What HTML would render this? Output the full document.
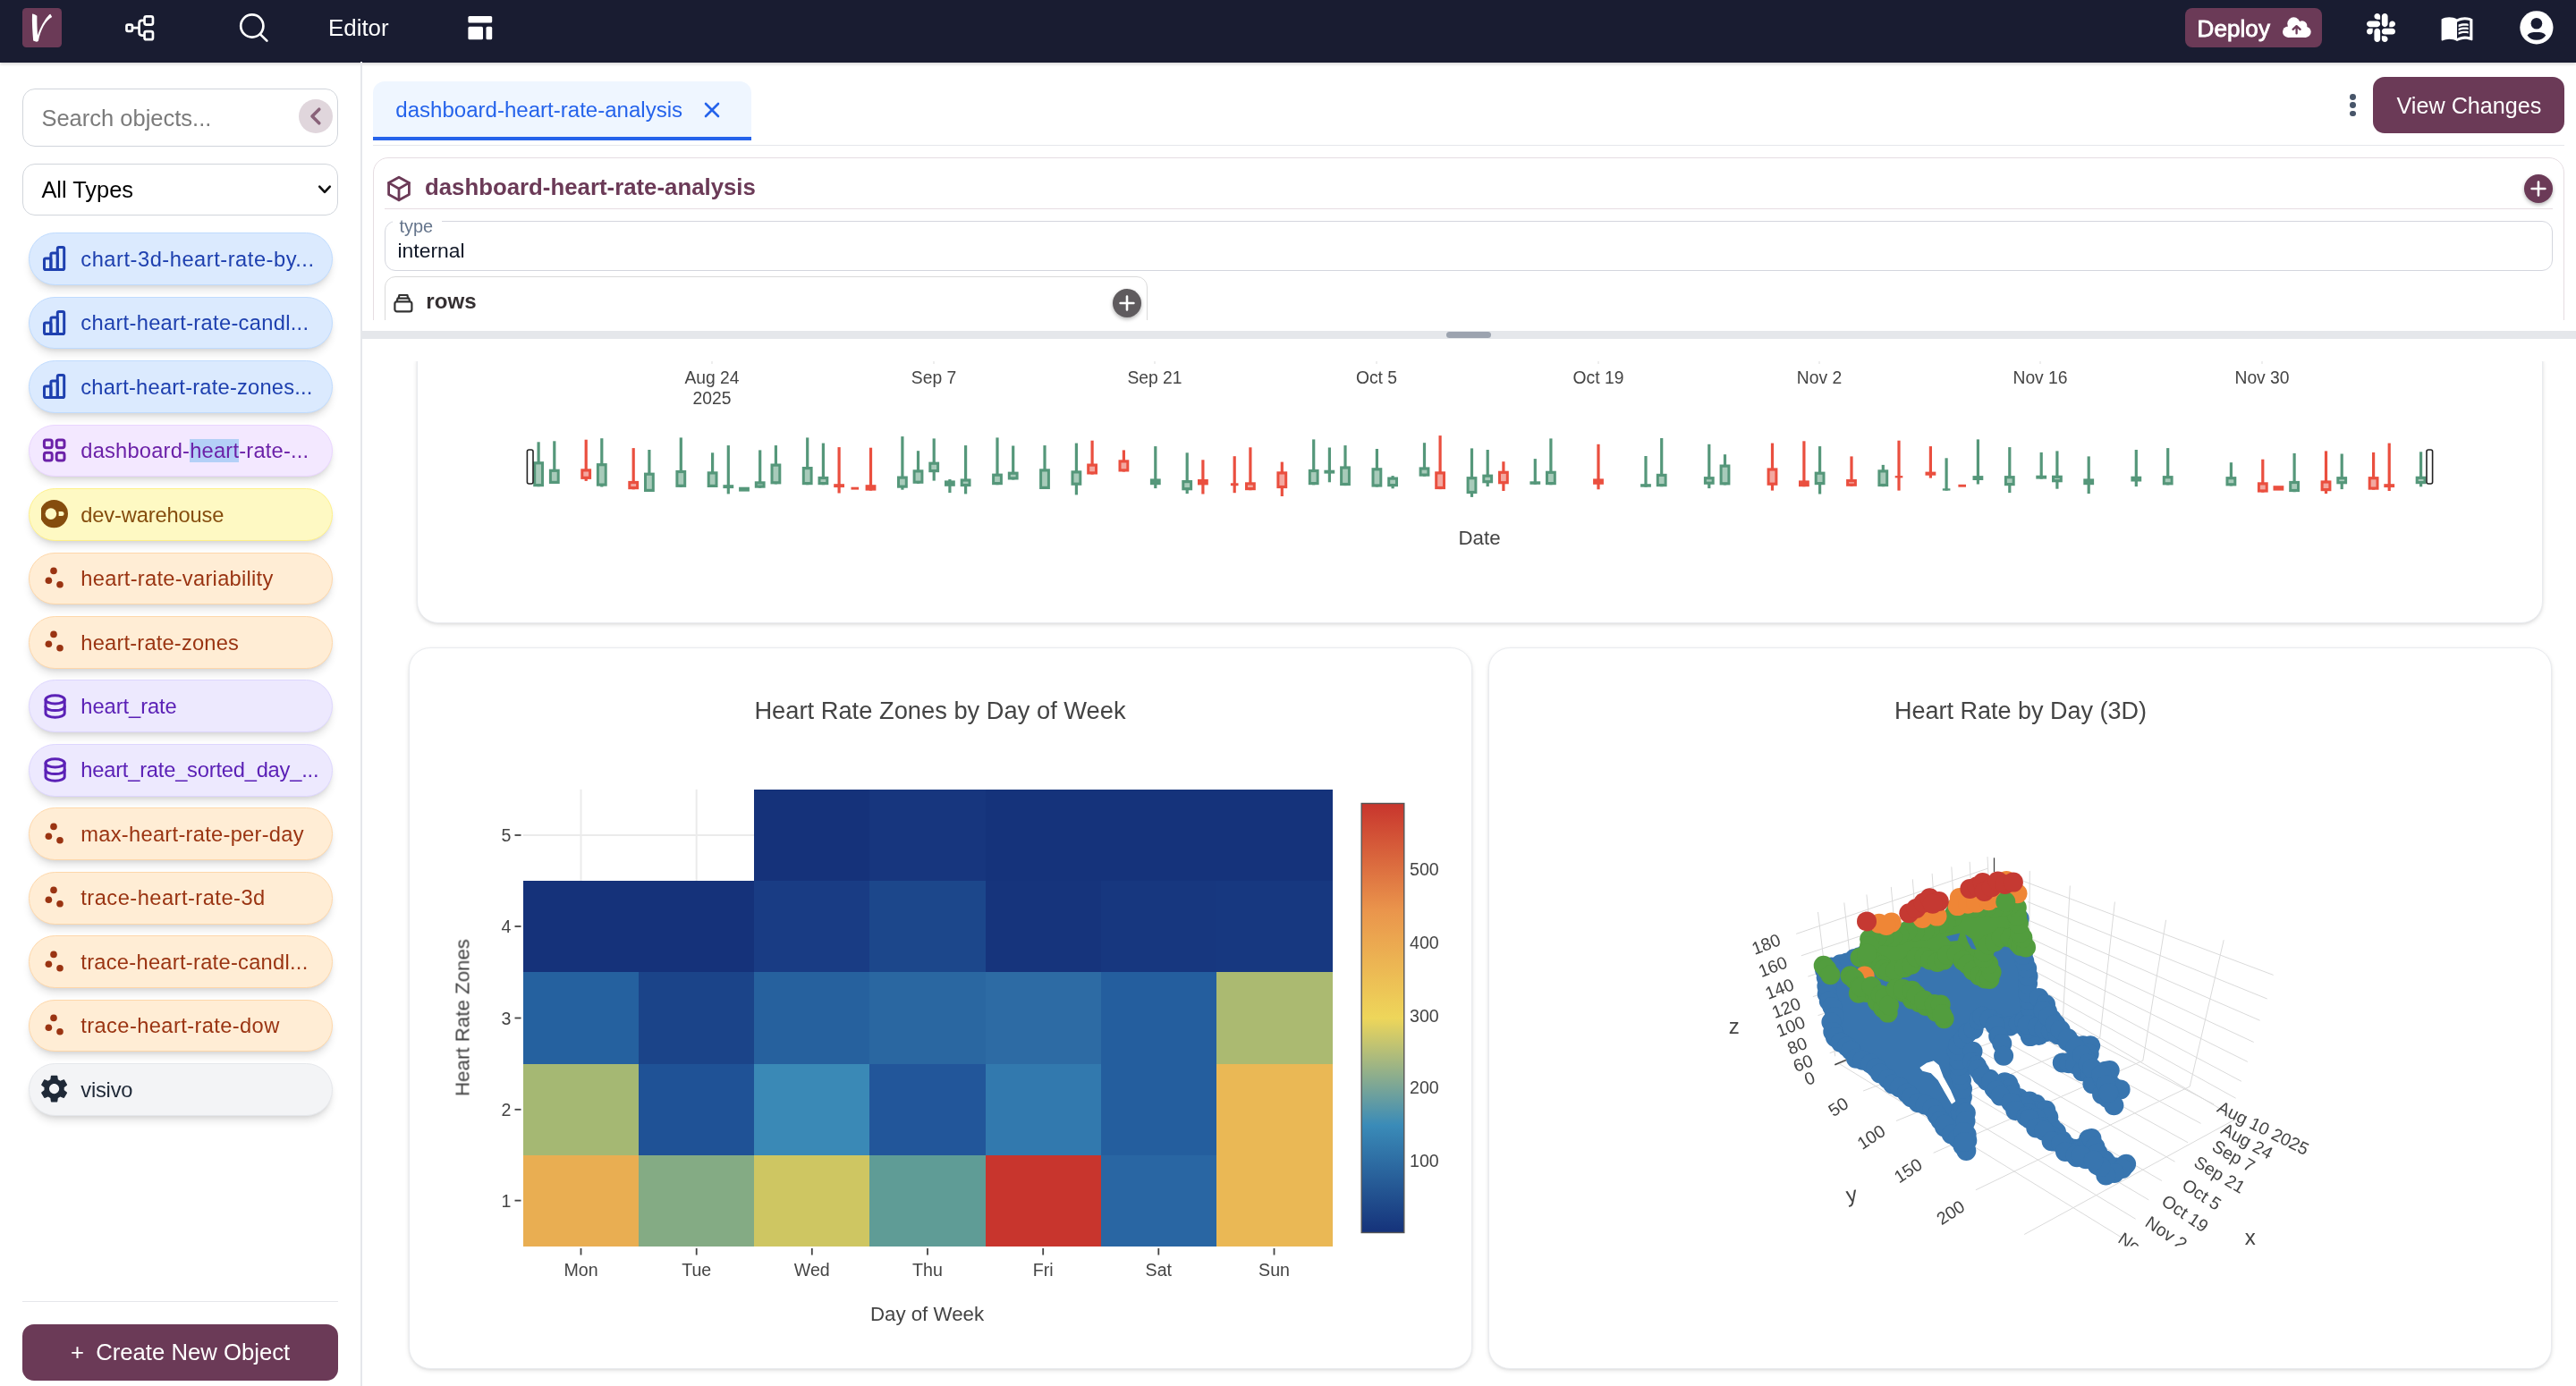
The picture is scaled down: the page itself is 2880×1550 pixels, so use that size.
<!DOCTYPE html><html><head><meta charset="utf-8"><title>Visivo Editor</title><style>
*{box-sizing:border-box;margin:0;padding:0}
html,body{width:2880px;height:1550px;overflow:hidden;background:#fff}
body{font-family:"Liberation Sans",sans-serif;position:relative;color:#111827}
.abs{position:absolute}
.nav{position:absolute;left:0;top:0;width:2880px;height:69.6px;background:#191c31;box-shadow:0 2px 3px rgba(0,0,0,.15)}
.t{position:absolute;white-space:nowrap;line-height:1}
.pill{position:absolute;left:32px;width:340px;height:58.8px;border-radius:29.4px;border:1.5px solid;box-shadow:0 7px 10px -2px rgba(0,0,0,.12),0 3px 6px -3px rgba(0,0,0,.12)}
.pill .t{left:57.3px;top:17.5px;font-size:23.7px}
.pill svg{position:absolute;left:13px;top:12.3px}
.card{position:absolute;background:#fff;border:1.5px solid #e9ebef;border-radius:24px;box-shadow:0 2px 5px rgba(0,0,0,.10),0 1px 3px rgba(0,0,0,.06)}
.pt{font-family:"Liberation Sans",sans-serif;fill:#444}
</style></head><body><div id="root" style="position:absolute;left:0;top:0;width:2880px;height:1550px;will-change:transform"><div class="nav"></div>
<div class="abs" style="left:25px;top:9px;width:44.2px;height:44.2px;border-radius:4.5px;background:#6b3a57"></div>
<svg class="abs" style="left:25px;top:9px" width="44" height="44" viewBox="0 0 44 44"><path d="M11 6.4C13 6.6 15 7.600 16.4 8.800C16.2 16 16.6 24 17 30.400C20 22 25 12.500 30.200 7.300L31.400 6.700L33.200 9.900C26 14 20.400 23.600 17.900 36.800C17 37.600 16 37.800 15 37.600L12.200 36.600C11.400 27 10.600 16 11 6.400Z" fill="#fff"/></svg>
<svg class="abs" style="left:138px;top:14px" width="38" height="34" viewBox="0 0 38 34" fill="none" stroke="#fff" stroke-width="2.7" stroke-linejoin="round"><rect x="3.5" y="13.6" width="6.4" height="7.2" rx="1.6"/><rect x="23.55" y="4.35" width="9.4" height="9.2" rx="2"/><rect x="23.55" y="21.05" width="9.4" height="9.1" rx="2"/><path d="M9.9 17.15H17.6M23.55 8.95H20.6Q17.6 8.95 17.6 11.95V22.6Q17.6 25.6 20.6 25.6H23.55"/></svg>
<svg class="abs" style="left:265px;top:12px" width="38" height="38" viewBox="0 0 38 38" fill="none" stroke="#fff" stroke-width="2.7" stroke-linecap="round"><circle cx="16.8" cy="17" r="12.6"/><path d="M26 26.4L33.4 33.6"/></svg>
<div class="t" style="left:367px;top:19px;font-size:25.9px;color:#fff">Editor</div>
<svg class="abs" style="left:523px;top:17px" width="28" height="28" viewBox="0 0 28 28" fill="#fff"><rect x="0.4" y="0.9" width="26.8" height="7.7" rx="1.6"/><rect x="0.4" y="12.8" width="16.6" height="14.5" rx="1.6"/><rect x="20.5" y="12.8" width="6.7" height="14.5" rx="1.6"/></svg>
<div class="abs" style="left:2443px;top:9px;width:153px;height:44px;border-radius:8px;background:#6b3a57"></div>
<div class="t" style="left:2456.5px;top:18.5px;font-size:26px;color:#fff;-webkit-text-stroke:0.85px #fff;letter-spacing:0.1px">Deploy</div>
<svg class="abs" style="left:2548px;top:14px" width="40" height="32" viewBox="2548 14 40 32"><g fill="#fff"><circle cx="2558.2" cy="35.7" r="6.2"/><circle cx="2564.4" cy="26.4" r="7.1"/><circle cx="2573.8" cy="28.9" r="5.6"/><circle cx="2577.6" cy="35.8" r="6.1"/><rect x="2558" y="29" width="20" height="12.9"/></g><path d="M2567.6 37.4V30.2M2563.6 32.9L2567.6 29.1L2571.6 32.9" stroke="#6b3a57" stroke-width="2.3" fill="none" stroke-linecap="round" stroke-linejoin="round"/></svg>
<svg class="abs" style="left:2646px;top:14.6px" width="32" height="32" viewBox="0 32 448 448" fill="#fff"><path d="M94.12 315.1c0 25.9-21.16 47.06-47.06 47.06S0 341 0 315.1c0-25.9 21.16-47.06 47.06-47.06h47.06v47.06zm23.72 0c0-25.9 21.16-47.06 47.06-47.06s47.06 21.16 47.06 47.06v117.84c0 25.9-21.16 47.06-47.06 47.06s-47.06-21.16-47.06-47.06V315.1zm47.06-188.98c-25.9 0-47.06-21.16-47.06-47.06S139 32 164.9 32s47.06 21.16 47.06 47.06v47.06H164.9zm0 23.72c25.9 0 47.06 21.16 47.06 47.06s-21.16 47.06-47.06 47.06H47.06C21.16 243.96 0 222.8 0 196.9s21.16-47.06 47.06-47.06H164.9zm188.98 47.06c0-25.9 21.16-47.06 47.06-47.06 25.9 0 47.06 21.16 47.06 47.06s-21.16 47.06-47.06 47.06h-47.06V196.9zm-23.72 0c0 25.9-21.16 47.06-47.06 47.06-25.9 0-47.06-21.16-47.06-47.06V79.06c0-25.9 21.16-47.06 47.06-47.06 25.9 0 47.06 21.16 47.06 47.06V196.9zM283.1 385.88c25.9 0 47.06 21.16 47.06 47.06 0 25.9-21.16 47.06-47.06 47.06-25.9 0-47.06-21.16-47.06-47.06v-47.06h47.06zm0-23.72c-25.9 0-47.06-21.16-47.06-47.06 0-25.9 21.16-47.06 47.06-47.06h117.84c25.9 0 47.06 21.16 47.06 47.06 0 25.9-21.16 47.06-47.06 47.06H283.1z"/></svg>
<svg class="abs" style="left:2728px;top:11.7px" width="38" height="38" viewBox="0 0 24 24" fill="#fff"><path d="M21 5c-1.11-.35-2.33-.5-3.5-.5-1.95 0-4.05.4-5.5 1.5-1.45-1.1-3.55-1.5-5.5-1.5S2.45 4.9 1 6v14.65c0 .25.25.5.5.5.1 0 .15-.05.25-.05C3.1 20.45 5.05 20 6.5 20c1.95 0 4.05.4 5.5 1.5 1.35-.85 3.8-1.5 5.5-1.5 1.65 0 3.35.3 4.750 1.050.1.05.15.05.25.05.25 0 .5-.25.5-.5V6c-.6-.45-1.25-.75-2-1zm0 13.5c-1.1-.35-2.3-.5-3.5-.5-1.7 0-4.15.65-5.5 1.5V8c1.350-.85 3.800-1.500 5.500-1.500 1.200 0 2.400.150 3.500.500v11.500z"/><path d="M17.500 10.500c.880 0 1.730.090 2.500.260V9.240c-.790-.150-1.640-.240-2.500-.240-1.700 0-3.240.290-4.500.830v1.660c1.130-.640 2.700-.990 4.500-.990zM13 12.490v1.660c1.130-.640 2.700-.990 4.500-.990.880 0 1.730.090 2.500.260V11.900c-.790-.150-1.640-.240-2.500-.240-1.700 0-3.240.300-4.500.830zM17.500 14.330c-1.700 0-3.240.290-4.500.830v1.660c1.130-.640 2.700-.990 4.500-.990.880 0 1.730.090 2.500.260v-1.520c-.790-.160-1.640-.240-2.500-.240z"/></svg>
<svg class="abs" style="left:2817px;top:12px" width="38" height="38" viewBox="0 0 38 38"><circle cx="18.9" cy="18.8" r="18.6" fill="#fff"/><circle cx="18.9" cy="14.3" r="6.3" fill="#191c31"/><path d="M8.5 27.4C11 24.6 14.5 24.1 18.9 24.1S26.8 24.6 29.3 27.4C27 30.6 23.4 32.8 18.9 32.8S10.800 30.600 8.500 27.400Z" fill="#191c31"/></svg>
<div class="abs" style="left:403px;top:69px;width:1.5px;height:1481px;background:#e5e7eb"></div>
<div class="abs" style="left:25px;top:99px;width:353px;height:64.5px;border:1.5px solid #d1d5db;border-radius:14px"></div>
<div class="t" style="left:46.4px;top:120.4px;font-size:25.5px;color:#7b7b7b">Search objects...</div>
<div class="abs" style="left:334px;top:111px;width:38px;height:38px;border-radius:50%;background:#e0d6dc"></div>
<svg class="abs" style="left:334px;top:111px" width="38" height="38" viewBox="0 0 38 38" fill="none" stroke="#896279" stroke-width="3.6" stroke-linecap="round" stroke-linejoin="round"><path d="M22.8 11.2L15 19L22.8 26.8"/></svg>
<div class="abs" style="left:25px;top:183px;width:353px;height:58px;border:1.5px solid #d1d5db;border-radius:14px"></div>
<div class="t" style="left:46.4px;top:199.8px;font-size:25.4px;color:#000">All Types</div>
<svg class="abs" style="left:354px;top:204px" width="18" height="16" viewBox="0 0 18 16" fill="none" stroke="#111" stroke-width="2.6" stroke-linecap="round" stroke-linejoin="round"><path d="M3.2 4.6L9 10.8L14.8 4.6"/></svg>
<div class="pill" style="top:260.2px;background:#dbeafe;border-color:#bfdbfe"><svg width="32" height="32" viewBox="0 0 32 32" fill="none" stroke="#1e40af" stroke-width="3" stroke-linejoin="round"><rect x="3.5" y="16" width="7.4" height="12.5" rx="1.6"/><rect x="10.9" y="10" width="7.4" height="18.5" rx="1.6"/><rect x="18.3" y="3.6" width="7.4" height="24.9" rx="1.6"/></svg><div class="t" style="color:#1e40af;letter-spacing:0.516px">chart-3d-heart-rate-by...</div></div>
<div class="pill" style="top:331.7px;background:#dbeafe;border-color:#bfdbfe"><svg width="32" height="32" viewBox="0 0 32 32" fill="none" stroke="#1e40af" stroke-width="3" stroke-linejoin="round"><rect x="3.5" y="16" width="7.4" height="12.5" rx="1.6"/><rect x="10.9" y="10" width="7.4" height="18.5" rx="1.6"/><rect x="18.3" y="3.6" width="7.4" height="24.9" rx="1.6"/></svg><div class="t" style="color:#1e40af;letter-spacing:0.303px">chart-heart-rate-candl...</div></div>
<div class="pill" style="top:403.1px;background:#dbeafe;border-color:#bfdbfe"><svg width="32" height="32" viewBox="0 0 32 32" fill="none" stroke="#1e40af" stroke-width="3" stroke-linejoin="round"><rect x="3.5" y="16" width="7.4" height="12.5" rx="1.6"/><rect x="10.9" y="10" width="7.4" height="18.5" rx="1.6"/><rect x="18.3" y="3.6" width="7.4" height="24.9" rx="1.6"/></svg><div class="t" style="color:#1e40af;letter-spacing:0.211px">chart-heart-rate-zones...</div></div>
<div class="pill" style="top:474.6px;background:#f3e8ff;border-color:#e9d5ff"><svg width="32" height="32" viewBox="0 0 32 32" fill="none" stroke="#6b21a8" stroke-width="3" stroke-linejoin="round"><rect x="3.4" y="4" width="8.8" height="8.8" rx="2.2"/><rect x="17.2" y="4" width="8.8" height="8.8" rx="2.2"/><rect x="3.4" y="18.2" width="8.8" height="8.8" rx="2.2"/><rect x="17.2" y="18.2" width="8.8" height="8.8" rx="2.2"/></svg><div class="t" style="color:#6b21a8;letter-spacing:0.204px">dashboard-<span style="background:#b4d0f7">heart</span>-rate-...</div></div>
<div class="pill" style="top:546.0px;background:#fef9c3;border-color:#fef08a"><svg width="32" height="32" viewBox="0 0 32 32"><circle cx="14.4" cy="15.6" r="15.6" fill="#854d0e"/><circle cx="10.9" cy="15.6" r="6.3" fill="#fef9c3"/><path d="M19.6 13.1H23A2.5 2.5 0 0 1 23 18.100H19.600Z" fill="#fef9c3"/></svg><div class="t" style="color:#854d0e;letter-spacing:-0.150px">dev-warehouse</div></div>
<div class="pill" style="top:617.5px;background:#ffedd5;border-color:#fed7aa"><svg width="32" height="32" viewBox="0 0 32 32" fill="#9a3412"><circle cx="14" cy="7.4" r="3.8"/><circle cx="8.4" cy="18.2" r="3.8"/><circle cx="21" cy="22.8" r="3.8"/></svg><div class="t" style="color:#9a3412;letter-spacing:0.272px">heart-rate-variability</div></div>
<div class="pill" style="top:689.0px;background:#ffedd5;border-color:#fed7aa"><svg width="32" height="32" viewBox="0 0 32 32" fill="#9a3412"><circle cx="14" cy="7.4" r="3.8"/><circle cx="8.4" cy="18.2" r="3.8"/><circle cx="21" cy="22.8" r="3.8"/></svg><div class="t" style="color:#9a3412;letter-spacing:0.188px">heart-rate-zones</div></div>
<div class="pill" style="top:760.4px;background:#ede9fe;border-color:#ddd6fe"><svg width="32" height="32" viewBox="0 0 32 32" fill="none" stroke="#5b21b6" stroke-width="3" stroke-linecap="round"><ellipse cx="15.6" cy="8.4" rx="10.6" ry="4.6"/><path d="M5 8.4V23.6C5 26.2 9.8 28.2 15.6 28.2S26.2 26.2 26.2 23.6V8.4"/><path d="M5 16C5 18.6 9.8 20.6 15.6 20.6S26.2 18.6 26.2 16"/></svg><div class="t" style="color:#5b21b6;letter-spacing:-0.054px">heart_rate</div></div>
<div class="pill" style="top:831.9px;background:#ede9fe;border-color:#ddd6fe"><svg width="32" height="32" viewBox="0 0 32 32" fill="none" stroke="#5b21b6" stroke-width="3" stroke-linecap="round"><ellipse cx="15.6" cy="8.4" rx="10.6" ry="4.6"/><path d="M5 8.4V23.6C5 26.2 9.8 28.2 15.6 28.2S26.2 26.2 26.2 23.6V8.4"/><path d="M5 16C5 18.6 9.8 20.6 15.6 20.6S26.2 18.6 26.2 16"/></svg><div class="t" style="color:#5b21b6;letter-spacing:-0.213px">heart_rate_sorted_day_...</div></div>
<div class="pill" style="top:903.3px;background:#ffedd5;border-color:#fed7aa"><svg width="32" height="32" viewBox="0 0 32 32" fill="#9a3412"><circle cx="14" cy="7.4" r="3.8"/><circle cx="8.4" cy="18.2" r="3.8"/><circle cx="21" cy="22.8" r="3.8"/></svg><div class="t" style="color:#9a3412;letter-spacing:0.274px">max-heart-rate-per-day</div></div>
<div class="pill" style="top:974.8px;background:#ffedd5;border-color:#fed7aa"><svg width="32" height="32" viewBox="0 0 32 32" fill="#9a3412"><circle cx="14" cy="7.4" r="3.8"/><circle cx="8.4" cy="18.2" r="3.8"/><circle cx="21" cy="22.8" r="3.8"/></svg><div class="t" style="color:#9a3412;letter-spacing:0.469px">trace-heart-rate-3d</div></div>
<div class="pill" style="top:1046.3px;background:#ffedd5;border-color:#fed7aa"><svg width="32" height="32" viewBox="0 0 32 32" fill="#9a3412"><circle cx="14" cy="7.4" r="3.8"/><circle cx="8.4" cy="18.2" r="3.8"/><circle cx="21" cy="22.8" r="3.8"/></svg><div class="t" style="color:#9a3412;letter-spacing:0.271px">trace-heart-rate-candl...</div></div>
<div class="pill" style="top:1117.7px;background:#ffedd5;border-color:#fed7aa"><svg width="32" height="32" viewBox="0 0 32 32" fill="#9a3412"><circle cx="14" cy="7.4" r="3.8"/><circle cx="8.4" cy="18.2" r="3.8"/><circle cx="21" cy="22.8" r="3.8"/></svg><div class="t" style="color:#9a3412;letter-spacing:0.390px">trace-heart-rate-dow</div></div>
<div class="pill" style="top:1189.2px;background:#f3f4f6;border-color:#e5e7eb"><svg style="left:8.7px;top:9.2px" width="37.2" height="37.2" viewBox="0 0 24 24" fill="#1f2937"><path d="M19.14 12.94c.04-.3.06-.61.06-.94 0-.32-.02-.64-.07-.94l2.03-1.58c.18-.14.23-.41.12-.61l-1.92-3.32c-.12-.22-.37-.29-.59-.22l-2.39.96c-.5-.38-1.03-.7-1.62-.94l-.36-2.54c-.04-.24-.24-.41-.48-.41h-3.84c-.24 0-.43.17-.47.41l-.36 2.54c-.59.24-1.13.57-1.62.94l-2.39-.96c-.22-.08-.47 0-.59.22L2.74 8.870c-.12.21-.08.47.12.61l2.030 1.580c-.05.3-.09.63-.09.94s.02.64.07.94l-2.030 1.580c-.18.14-.23.41-.12.61l1.920 3.320c.12.22.37.29.59.22l2.390-.96c.5.38 1.030.7 1.620.94l.36 2.540c.05.24.24.41.48.41h3.840c.24 0 .44-.17.47-.41l.36-2.540c.59-.24 1.130-.56 1.620-.94l2.390.96c.22.08.47 0 .59-.22l1.920-3.320c.12-.22.07-.47-.12-.61l-2.010-1.580zM12 15.600c-1.980 0-3.600-1.620-3.600-3.600s1.620-3.600 3.600-3.600 3.600 1.620 3.600 3.600-1.620 3.600-3.600 3.600z"/></svg><div class="t" style="color:#1f2937;letter-spacing:-0.211px">visivo</div></div>
<div class="abs" style="left:25px;top:1454.5px;width:353px;height:1.5px;background:#e5e7eb"></div>
<div class="abs" style="left:25px;top:1481px;width:353px;height:63px;border-radius:13px;background:#6b3a57"></div>
<div class="t" style="left:79px;top:1499.5px;font-size:25.7px;color:#fff">+</div><div class="t" style="left:107.2px;top:1499.5px;font-size:25.7px;color:#fff">Create New Object</div>
<div class="abs" style="left:417px;top:91px;width:423px;height:66px;border-radius:13px 13px 0 0;background:#eff6ff;border-bottom:4px solid #2563eb"></div>
<div class="t" style="left:442.3px;top:111.2px;font-size:24.05px;color:#2563eb">dashboard-heart-rate-analysis</div>
<svg class="abs" style="left:786px;top:113px" width="20" height="20" viewBox="0 0 20 20" stroke="#2563eb" stroke-width="2.6" stroke-linecap="round"><path d="M3 3L17 17M17 3L3 17"/></svg>
<div class="abs" style="left:417px;top:161.5px;width:2450px;height:1.5px;background:#e5e7eb"></div>
<div class="abs" style="left:2627.2px;top:105.39999999999999px;width:6.8px;height:6.8px;border-radius:50%;background:#475569"></div>
<div class="abs" style="left:2627.2px;top:114.39999999999999px;width:6.8px;height:6.8px;border-radius:50%;background:#475569"></div>
<div class="abs" style="left:2627.2px;top:123.6px;width:6.8px;height:6.8px;border-radius:50%;background:#475569"></div>
<div class="abs" style="left:2653px;top:86px;width:214px;height:63px;border-radius:13px;background:#6b3a57"></div>
<div class="t" style="left:2679.5px;top:105.8px;font-size:25.2px;color:#fff">View Changes</div>
<div class="abs" style="left:403px;top:163px;width:2477px;height:195px;overflow:hidden"><div class="abs" style="left:14px;top:12.5px;width:2450px;height:400px;border:1.5px solid #e6dde2;border-radius:17px"></div><div class="abs" style="left:27px;top:69.5px;width:2424px;height:1.5px;background:#e6dde2"></div><div class="abs" style="left:27px;top:84.3px;width:2424px;height:55.7px;border:1.5px solid #d4d6de;border-radius:12px"></div><div class="abs" style="left:36px;top:80px;width:55px;height:14px;background:#fff"></div><div class="t" style="left:43.5px;top:81px;font-size:19.9px;color:#64748b">type</div><div class="t" style="left:41.5px;top:106px;font-size:22.9px;color:#111827">internal</div><div class="abs" style="left:27px;top:145.7px;width:853px;height:200px;border:1.5px solid #dadada;border-radius:12px"></div></div>
<svg class="abs" style="left:432px;top:196px" width="28" height="30" viewBox="0 0 28 30" fill="none" stroke="#6b3a57" stroke-width="2.8" stroke-linejoin="round" stroke-linecap="round"><path d="M14 2.2L25.4 8.4V21.6L14 27.8L2.6 21.6V8.4Z"/><path d="M2.6 8.4L14 15L25.4 8.4M14 15V27.8"/></svg>
<div class="t" style="left:475px;top:197px;font-size:25.8px;font-weight:700;color:#6b3a57">dashboard-heart-rate-analysis</div>
<div class="abs" style="left:2822px;top:195px;width:32px;height:32px;border-radius:50%;background:#6b3a57;box-shadow:0 2px 4px rgba(0,0,0,.3)"></div>
<svg class="abs" style="left:2822px;top:195px" width="32" height="32" viewBox="0 0 32 32" stroke="#fff" stroke-width="2.6" stroke-linecap="round"><path d="M16 8.6V23.4M8.6 16H23.4"/></svg>
<svg class="abs" style="left:439px;top:327px" width="24" height="24" viewBox="0 0 24 24" fill="none" stroke="#333" stroke-width="2.2" stroke-linejoin="round"><rect x="2.4" y="10.4" width="19" height="11" rx="2.4"/><path d="M4.6 10.4L5.6 6.6H18.2L19.2 10.4M6.6 6.6L7.4 3H16.4L17.2 6.6"/></svg>
<div class="t" style="left:476.3px;top:324.8px;font-size:24.1px;font-weight:700;color:#353032">rows</div>
<div class="abs" style="left:1244px;top:322.5px;width:32px;height:32px;border-radius:50%;background:#5f5b5e;box-shadow:0 2px 4px rgba(0,0,0,.3)"></div>
<svg class="abs" style="left:1244px;top:322.5px" width="32" height="32" viewBox="0 0 32 32" stroke="#fff" stroke-width="2.6" stroke-linecap="round"><path d="M16 8.6V23.4M8.6 16H23.4"/></svg>
<div class="abs" style="left:404px;top:370px;width:2476px;height:9px;background:#e5e7eb"></div>
<div class="abs" style="left:1617px;top:371px;width:50px;height:7px;border-radius:4px;background:#9ca3af"></div>
<div class="card" style="left:466px;top:381px;width:2377px;height:315.5px"></div>
<div class="abs" style="left:405px;top:379px;width:2475px;height:25px;background:#fff"></div>
<div class="card" style="left:457px;top:724px;width:1189px;height:806.5px"></div>
<div class="card" style="left:1664px;top:724px;width:1189px;height:806.5px"></div>
<svg class="abs pt" style="left:0;top:0;font-family:'Liberation Sans',sans-serif" width="2880" height="1550" viewBox="0 0 2880 1550">
<rect x="600.5" y="494.3" width="3.2" height="49.9" fill="#55977a"/>
<rect x="596.2" y="516.2" width="11.8" height="28.0" fill="#55977a"/>
<rect x="599.2" y="519.4" width="5.8" height="21.6" fill="#a8cbba"/>
<rect x="618.2" y="493.3" width="3.2" height="47.7" fill="#55977a"/>
<rect x="613.9" y="524.7" width="11.8" height="16.3" fill="#55977a"/>
<rect x="616.9" y="527.9" width="5.8" height="9.9" fill="#a8cbba"/>
<rect x="653.6" y="491.7" width="3.2" height="46.2" fill="#ea4f3f"/>
<rect x="649.3" y="524.3" width="11.8" height="11.6" fill="#ea4f3f"/>
<rect x="652.3" y="527.5" width="5.8" height="5.2" fill="#f3a8a0"/>
<rect x="671.2" y="490.2" width="3.2" height="54.3" fill="#55977a"/>
<rect x="666.9" y="518.1" width="11.8" height="25.6" fill="#55977a"/>
<rect x="669.9" y="521.3" width="5.8" height="19.2" fill="#a8cbba"/>
<rect x="706.6" y="501.1" width="3.2" height="46.2" fill="#ea4f3f"/>
<rect x="702.3" y="537.9" width="11.8" height="9.3" fill="#ea4f3f"/>
<rect x="705.3" y="541.1" width="5.8" height="2.9" fill="#f3a8a0"/>
<rect x="724.3" y="503.0" width="3.2" height="47.0" fill="#55977a"/>
<rect x="720.0" y="528.6" width="11.8" height="21.4" fill="#55977a"/>
<rect x="723.0" y="531.8" width="5.8" height="15.0" fill="#a8cbba"/>
<rect x="759.7" y="489.4" width="3.2" height="55.5" fill="#55977a"/>
<rect x="755.4" y="525.9" width="11.8" height="19.0" fill="#55977a"/>
<rect x="758.4" y="529.1" width="5.8" height="12.6" fill="#a8cbba"/>
<rect x="795.0" y="506.3" width="3.2" height="38.6" fill="#55977a"/>
<rect x="790.7" y="527.3" width="11.8" height="17.7" fill="#55977a"/>
<rect x="793.7" y="530.5" width="5.8" height="11.3" fill="#a8cbba"/>
<rect x="812.7" y="498.1" width="3.2" height="54.3" fill="#55977a"/>
<rect x="808.4" y="542.2" width="11.8" height="3.9" fill="#55977a"/>
<rect x="826.1" y="544.7" width="11.8" height="4.9" fill="#55977a"/>
<rect x="848.1" y="503.4" width="3.2" height="42.3" fill="#55977a"/>
<rect x="843.8" y="538.3" width="11.8" height="7.4" fill="#55977a"/>
<rect x="846.8" y="541.5" width="5.8" height="1.0" fill="#a8cbba"/>
<rect x="865.8" y="498.1" width="3.2" height="43.3" fill="#55977a"/>
<rect x="861.5" y="518.5" width="11.8" height="22.9" fill="#55977a"/>
<rect x="864.5" y="521.7" width="5.8" height="16.5" fill="#a8cbba"/>
<rect x="901.1" y="489.4" width="3.2" height="52.8" fill="#55977a"/>
<rect x="896.8" y="522.0" width="11.8" height="20.2" fill="#55977a"/>
<rect x="899.8" y="525.2" width="5.8" height="13.8" fill="#a8cbba"/>
<rect x="918.8" y="495.6" width="3.2" height="46.6" fill="#55977a"/>
<rect x="914.5" y="532.9" width="11.8" height="9.3" fill="#55977a"/>
<rect x="917.5" y="536.1" width="5.8" height="2.9" fill="#a8cbba"/>
<rect x="936.5" y="500.1" width="3.2" height="51.4" fill="#ea4f3f"/>
<rect x="932.2" y="541.2" width="11.8" height="3.9" fill="#ea4f3f"/>
<rect x="951.5" y="544.7" width="8.6" height="2.9" fill="#ea4f3f"/>
<rect x="971.9" y="500.7" width="3.2" height="47.9" fill="#ea4f3f"/>
<rect x="967.6" y="542.2" width="11.8" height="6.4" fill="#ea4f3f"/>
<rect x="1007.3" y="488.1" width="3.2" height="59.6" fill="#55977a"/>
<rect x="1003.0" y="532.5" width="11.8" height="13.2" fill="#55977a"/>
<rect x="1006.0" y="535.7" width="5.8" height="6.8" fill="#a8cbba"/>
<rect x="1024.9" y="504.2" width="3.2" height="36.7" fill="#55977a"/>
<rect x="1020.6" y="525.3" width="11.8" height="15.5" fill="#55977a"/>
<rect x="1023.6" y="528.5" width="5.8" height="9.1" fill="#a8cbba"/>
<rect x="1042.6" y="490.4" width="3.2" height="47.2" fill="#55977a"/>
<rect x="1038.3" y="516.6" width="11.8" height="11.6" fill="#55977a"/>
<rect x="1041.3" y="519.8" width="5.8" height="5.2" fill="#a8cbba"/>
<rect x="1060.3" y="536.0" width="3.2" height="15.1" fill="#55977a"/>
<rect x="1056.0" y="537.4" width="11.8" height="6.4" fill="#55977a"/>
<rect x="1078.0" y="498.1" width="3.2" height="54.3" fill="#55977a"/>
<rect x="1073.7" y="535.4" width="11.8" height="8.7" fill="#55977a"/>
<rect x="1076.7" y="538.6" width="5.8" height="2.3" fill="#a8cbba"/>
<rect x="1113.4" y="489.4" width="3.2" height="52.8" fill="#55977a"/>
<rect x="1109.1" y="529.6" width="11.8" height="12.6" fill="#55977a"/>
<rect x="1112.1" y="532.8" width="5.8" height="6.2" fill="#a8cbba"/>
<rect x="1131.1" y="498.5" width="3.2" height="38.0" fill="#55977a"/>
<rect x="1126.8" y="527.6" width="11.8" height="8.9" fill="#55977a"/>
<rect x="1129.8" y="530.8" width="5.8" height="2.5" fill="#a8cbba"/>
<rect x="1166.4" y="498.1" width="3.2" height="48.9" fill="#55977a"/>
<rect x="1162.1" y="524.3" width="11.8" height="22.7" fill="#55977a"/>
<rect x="1165.1" y="527.5" width="5.8" height="16.3" fill="#a8cbba"/>
<rect x="1201.8" y="495.6" width="3.2" height="57.8" fill="#55977a"/>
<rect x="1197.5" y="526.3" width="11.8" height="16.5" fill="#55977a"/>
<rect x="1200.5" y="529.5" width="5.8" height="10.1" fill="#a8cbba"/>
<rect x="1219.5" y="492.7" width="3.2" height="37.8" fill="#ea4f3f"/>
<rect x="1215.2" y="518.5" width="11.8" height="12.0" fill="#ea4f3f"/>
<rect x="1218.2" y="521.7" width="5.8" height="5.6" fill="#f3a8a0"/>
<rect x="1254.8" y="503.4" width="3.2" height="24.1" fill="#ea4f3f"/>
<rect x="1250.5" y="514.3" width="11.8" height="13.2" fill="#ea4f3f"/>
<rect x="1253.5" y="517.5" width="5.8" height="6.8" fill="#f3a8a0"/>
<rect x="1290.2" y="499.1" width="3.2" height="47.0" fill="#55977a"/>
<rect x="1285.9" y="535.4" width="11.8" height="6.8" fill="#55977a"/>
<rect x="1325.6" y="506.3" width="3.2" height="45.8" fill="#55977a"/>
<rect x="1321.3" y="537.0" width="11.8" height="11.3" fill="#55977a"/>
<rect x="1324.3" y="540.2" width="5.8" height="4.9" fill="#a8cbba"/>
<rect x="1343.3" y="514.3" width="3.2" height="38.2" fill="#ea4f3f"/>
<rect x="1339.0" y="536.0" width="11.8" height="6.4" fill="#ea4f3f"/>
<rect x="1378.6" y="510.2" width="3.2" height="41.0" fill="#ea4f3f"/>
<rect x="1375.9" y="540.3" width="8.6" height="2.9" fill="#ea4f3f"/>
<rect x="1396.3" y="500.3" width="3.2" height="47.9" fill="#ea4f3f"/>
<rect x="1392.0" y="539.3" width="11.8" height="8.9" fill="#ea4f3f"/>
<rect x="1395.0" y="542.5" width="5.8" height="2.5" fill="#f3a8a0"/>
<rect x="1431.7" y="516.6" width="3.2" height="38.4" fill="#ea4f3f"/>
<rect x="1427.4" y="527.3" width="11.8" height="18.8" fill="#ea4f3f"/>
<rect x="1430.4" y="530.5" width="5.8" height="12.4" fill="#f3a8a0"/>
<rect x="1467.1" y="491.4" width="3.2" height="50.9" fill="#55977a"/>
<rect x="1462.8" y="524.9" width="11.8" height="17.3" fill="#55977a"/>
<rect x="1465.8" y="528.1" width="5.8" height="10.9" fill="#a8cbba"/>
<rect x="1484.8" y="500.5" width="3.2" height="38.8" fill="#55977a"/>
<rect x="1480.4" y="525.7" width="11.8" height="3.9" fill="#55977a"/>
<rect x="1502.4" y="498.1" width="3.2" height="45.0" fill="#55977a"/>
<rect x="1498.1" y="521.4" width="11.8" height="21.7" fill="#55977a"/>
<rect x="1501.1" y="524.6" width="5.8" height="15.3" fill="#a8cbba"/>
<rect x="1537.8" y="502.0" width="3.2" height="42.5" fill="#55977a"/>
<rect x="1533.5" y="523.2" width="11.8" height="21.4" fill="#55977a"/>
<rect x="1536.5" y="526.4" width="5.8" height="15.0" fill="#a8cbba"/>
<rect x="1555.5" y="532.1" width="3.2" height="14.2" fill="#55977a"/>
<rect x="1551.2" y="533.5" width="11.8" height="10.7" fill="#55977a"/>
<rect x="1554.2" y="536.7" width="5.8" height="4.3" fill="#a8cbba"/>
<rect x="1590.9" y="495.2" width="3.2" height="37.5" fill="#55977a"/>
<rect x="1586.6" y="522.4" width="11.8" height="10.3" fill="#55977a"/>
<rect x="1589.6" y="525.6" width="5.8" height="3.9" fill="#a8cbba"/>
<rect x="1608.5" y="487.1" width="3.2" height="60.0" fill="#ea4f3f"/>
<rect x="1604.2" y="527.3" width="11.8" height="19.8" fill="#ea4f3f"/>
<rect x="1607.2" y="530.5" width="5.8" height="13.4" fill="#f3a8a0"/>
<rect x="1643.9" y="501.4" width="3.2" height="54.5" fill="#55977a"/>
<rect x="1639.6" y="533.1" width="11.8" height="19.0" fill="#55977a"/>
<rect x="1642.6" y="536.3" width="5.8" height="12.6" fill="#a8cbba"/>
<rect x="1661.6" y="503.0" width="3.2" height="41.1" fill="#55977a"/>
<rect x="1657.3" y="530.6" width="11.8" height="9.7" fill="#55977a"/>
<rect x="1660.3" y="533.8" width="5.8" height="3.3" fill="#a8cbba"/>
<rect x="1679.3" y="516.2" width="3.2" height="32.8" fill="#ea4f3f"/>
<rect x="1675.0" y="526.7" width="11.8" height="14.6" fill="#ea4f3f"/>
<rect x="1678.0" y="529.9" width="5.8" height="8.2" fill="#f3a8a0"/>
<rect x="1714.7" y="513.1" width="3.2" height="28.7" fill="#55977a"/>
<rect x="1710.4" y="538.3" width="11.8" height="3.5" fill="#55977a"/>
<rect x="1732.3" y="490.4" width="3.2" height="51.8" fill="#55977a"/>
<rect x="1728.0" y="526.7" width="11.8" height="15.5" fill="#55977a"/>
<rect x="1731.0" y="529.9" width="5.8" height="9.1" fill="#a8cbba"/>
<rect x="1785.4" y="496.8" width="3.2" height="50.5" fill="#ea4f3f"/>
<rect x="1781.1" y="535.4" width="11.8" height="6.4" fill="#ea4f3f"/>
<rect x="1838.4" y="510.0" width="3.2" height="34.7" fill="#55977a"/>
<rect x="1834.1" y="541.2" width="11.8" height="3.5" fill="#55977a"/>
<rect x="1856.1" y="490.0" width="3.2" height="54.2" fill="#55977a"/>
<rect x="1851.8" y="529.8" width="11.8" height="14.4" fill="#55977a"/>
<rect x="1854.8" y="533.0" width="5.8" height="8.0" fill="#a8cbba"/>
<rect x="1909.2" y="496.8" width="3.2" height="49.3" fill="#55977a"/>
<rect x="1904.9" y="533.1" width="11.8" height="8.7" fill="#55977a"/>
<rect x="1907.9" y="536.3" width="5.8" height="2.3" fill="#a8cbba"/>
<rect x="1926.9" y="508.2" width="3.2" height="34.2" fill="#55977a"/>
<rect x="1922.6" y="519.5" width="11.8" height="22.9" fill="#55977a"/>
<rect x="1925.6" y="522.7" width="5.8" height="16.5" fill="#a8cbba"/>
<rect x="1979.9" y="495.6" width="3.2" height="53.0" fill="#ea4f3f"/>
<rect x="1975.6" y="523.4" width="11.8" height="19.4" fill="#ea4f3f"/>
<rect x="1978.6" y="526.6" width="5.8" height="13.0" fill="#f3a8a0"/>
<rect x="2015.3" y="493.3" width="3.2" height="50.9" fill="#ea4f3f"/>
<rect x="2011.0" y="537.4" width="11.8" height="6.8" fill="#ea4f3f"/>
<rect x="2033.0" y="499.1" width="3.2" height="53.4" fill="#55977a"/>
<rect x="2028.7" y="527.6" width="11.8" height="14.6" fill="#55977a"/>
<rect x="2031.7" y="530.8" width="5.8" height="8.2" fill="#a8cbba"/>
<rect x="2068.4" y="510.4" width="3.2" height="33.4" fill="#ea4f3f"/>
<rect x="2064.1" y="536.0" width="11.8" height="7.8" fill="#ea4f3f"/>
<rect x="2067.1" y="539.2" width="5.8" height="1.4" fill="#f3a8a0"/>
<rect x="2103.7" y="519.9" width="3.2" height="24.3" fill="#55977a"/>
<rect x="2099.4" y="525.3" width="11.8" height="18.8" fill="#55977a"/>
<rect x="2102.4" y="528.5" width="5.8" height="12.4" fill="#a8cbba"/>
<rect x="2121.4" y="492.7" width="3.2" height="55.9" fill="#ea4f3f"/>
<rect x="2118.7" y="532.1" width="8.6" height="2.3" fill="#ea4f3f"/>
<rect x="2156.8" y="499.1" width="3.2" height="35.5" fill="#ea4f3f"/>
<rect x="2152.5" y="527.6" width="11.8" height="4.1" fill="#ea4f3f"/>
<rect x="2174.5" y="512.3" width="3.2" height="36.3" fill="#55977a"/>
<rect x="2171.8" y="546.3" width="8.6" height="2.3" fill="#55977a"/>
<rect x="2189.4" y="541.8" width="8.6" height="2.9" fill="#ea4f3f"/>
<rect x="2209.8" y="491.4" width="3.2" height="50.1" fill="#55977a"/>
<rect x="2205.5" y="532.1" width="11.8" height="4.9" fill="#55977a"/>
<rect x="2245.2" y="500.1" width="3.2" height="51.0" fill="#55977a"/>
<rect x="2240.9" y="532.1" width="11.8" height="11.1" fill="#55977a"/>
<rect x="2243.9" y="535.3" width="5.8" height="4.7" fill="#a8cbba"/>
<rect x="2280.6" y="505.9" width="3.2" height="29.7" fill="#55977a"/>
<rect x="2276.3" y="531.7" width="11.8" height="3.9" fill="#55977a"/>
<rect x="2298.3" y="504.4" width="3.2" height="42.3" fill="#55977a"/>
<rect x="2294.0" y="531.7" width="11.8" height="7.6" fill="#55977a"/>
<rect x="2297.0" y="534.9" width="5.8" height="1.2" fill="#a8cbba"/>
<rect x="2333.6" y="510.4" width="3.2" height="41.7" fill="#55977a"/>
<rect x="2329.3" y="535.4" width="11.8" height="6.8" fill="#55977a"/>
<rect x="2386.7" y="503.0" width="3.2" height="41.1" fill="#55977a"/>
<rect x="2382.4" y="532.7" width="11.8" height="5.8" fill="#55977a"/>
<rect x="2422.1" y="501.1" width="3.2" height="41.3" fill="#55977a"/>
<rect x="2417.8" y="532.1" width="11.8" height="10.3" fill="#55977a"/>
<rect x="2420.8" y="535.3" width="5.8" height="3.9" fill="#a8cbba"/>
<rect x="2492.8" y="517.2" width="3.2" height="26.2" fill="#55977a"/>
<rect x="2488.5" y="533.1" width="11.8" height="10.3" fill="#55977a"/>
<rect x="2491.5" y="536.3" width="5.8" height="3.9" fill="#a8cbba"/>
<rect x="2528.2" y="513.7" width="3.2" height="36.9" fill="#ea4f3f"/>
<rect x="2523.9" y="539.3" width="11.8" height="11.3" fill="#ea4f3f"/>
<rect x="2526.9" y="542.5" width="5.8" height="4.9" fill="#f3a8a0"/>
<rect x="2541.5" y="543.2" width="11.8" height="5.4" fill="#ea4f3f"/>
<rect x="2563.5" y="506.9" width="3.2" height="43.3" fill="#55977a"/>
<rect x="2559.2" y="537.9" width="11.8" height="12.2" fill="#55977a"/>
<rect x="2562.2" y="541.1" width="5.8" height="5.8" fill="#a8cbba"/>
<rect x="2598.9" y="504.4" width="3.2" height="47.7" fill="#ea4f3f"/>
<rect x="2594.6" y="537.4" width="11.8" height="11.8" fill="#ea4f3f"/>
<rect x="2597.6" y="540.6" width="5.8" height="5.4" fill="#f3a8a0"/>
<rect x="2616.6" y="507.5" width="3.2" height="39.6" fill="#55977a"/>
<rect x="2612.3" y="533.1" width="11.8" height="8.2" fill="#55977a"/>
<rect x="2615.3" y="536.3" width="5.8" height="1.8" fill="#a8cbba"/>
<rect x="2652.0" y="505.9" width="3.2" height="41.7" fill="#ea4f3f"/>
<rect x="2647.7" y="533.1" width="11.8" height="14.6" fill="#ea4f3f"/>
<rect x="2650.7" y="536.3" width="5.8" height="8.2" fill="#f3a8a0"/>
<rect x="2669.6" y="495.6" width="3.2" height="53.4" fill="#ea4f3f"/>
<rect x="2665.3" y="541.2" width="11.8" height="3.9" fill="#ea4f3f"/>
<rect x="2705.0" y="505.3" width="3.2" height="39.0" fill="#55977a"/>
<rect x="2700.7" y="532.7" width="11.8" height="8.5" fill="#55977a"/>
<rect x="2703.7" y="535.9" width="5.8" height="2.1" fill="#a8cbba"/>
<rect x="589.4" y="503" width="6.6" height="38" rx="2" fill="#fff" stroke="#222" stroke-width="1.6"/>
<rect x="2713.0" y="503" width="6.6" height="38" rx="2" fill="#fff" stroke="#222" stroke-width="1.6"/>
<rect x="795.5" y="404" width="1" height="3" fill="#ddd"/>
<text x="796.0" y="428.6" font-size="19.3" text-anchor="middle" fill="#444">Aug 24</text>
<rect x="1043.5" y="404" width="1" height="3" fill="#ddd"/>
<text x="1044.0" y="428.6" font-size="19.3" text-anchor="middle" fill="#444">Sep 7</text>
<rect x="1290.5" y="404" width="1" height="3" fill="#ddd"/>
<text x="1291.0" y="428.6" font-size="19.3" text-anchor="middle" fill="#444">Sep 21</text>
<rect x="1538.5" y="404" width="1" height="3" fill="#ddd"/>
<text x="1539.0" y="428.6" font-size="19.3" text-anchor="middle" fill="#444">Oct 5</text>
<rect x="1786.5" y="404" width="1" height="3" fill="#ddd"/>
<text x="1787.0" y="428.6" font-size="19.3" text-anchor="middle" fill="#444">Oct 19</text>
<rect x="2033.5" y="404" width="1" height="3" fill="#ddd"/>
<text x="2034.0" y="428.6" font-size="19.3" text-anchor="middle" fill="#444">Nov 2</text>
<rect x="2280.5" y="404" width="1" height="3" fill="#ddd"/>
<text x="2281.0" y="428.6" font-size="19.3" text-anchor="middle" fill="#444">Nov 16</text>
<rect x="2528.5" y="404" width="1" height="3" fill="#ddd"/>
<text x="2529.0" y="428.6" font-size="19.3" text-anchor="middle" fill="#444">Nov 30</text>
<text x="796.0" y="452.2" font-size="19.3" text-anchor="middle" fill="#444">2025</text>
<text x="1654.0" y="608.6" font-size="22.3" text-anchor="middle" fill="#444">Date</text>
<rect x="648.5" y="882.8" width="2" height="102.3" fill="#ebebeb"/>
<rect x="777.7" y="882.8" width="2" height="102.3" fill="#ebebeb"/>
<rect x="584.9" y="933.0" width="258.3" height="2" fill="#ebebeb"/>
<rect x="843.24" y="882.8" width="129.77" height="102.90" fill="#15327a" shape-rendering="crispEdges"/>
<rect x="972.41" y="882.8" width="129.77" height="102.90" fill="#17367e" shape-rendering="crispEdges"/>
<rect x="1101.58" y="882.8" width="129.77" height="102.90" fill="#15337b" shape-rendering="crispEdges"/>
<rect x="1230.75" y="882.8" width="129.77" height="102.90" fill="#15337b" shape-rendering="crispEdges"/>
<rect x="1359.92" y="882.8" width="129.77" height="102.90" fill="#15337b" shape-rendering="crispEdges"/>
<rect x="584.90" y="985.1" width="129.77" height="102.50" fill="#15327a" shape-rendering="crispEdges"/>
<rect x="714.07" y="985.1" width="129.77" height="102.50" fill="#15327a" shape-rendering="crispEdges"/>
<rect x="843.24" y="985.1" width="129.77" height="102.50" fill="#193c84" shape-rendering="crispEdges"/>
<rect x="972.41" y="985.1" width="129.77" height="102.50" fill="#1c478b" shape-rendering="crispEdges"/>
<rect x="1101.58" y="985.1" width="129.77" height="102.50" fill="#16347c" shape-rendering="crispEdges"/>
<rect x="1230.75" y="985.1" width="129.77" height="102.50" fill="#17377f" shape-rendering="crispEdges"/>
<rect x="1359.92" y="985.1" width="129.77" height="102.50" fill="#173880" shape-rendering="crispEdges"/>
<rect x="584.90" y="1087.0" width="129.77" height="103.60" fill="#25619f" shape-rendering="crispEdges"/>
<rect x="714.07" y="1087.0" width="129.77" height="103.60" fill="#1b4489" shape-rendering="crispEdges"/>
<rect x="843.24" y="1087.0" width="129.77" height="103.60" fill="#26619e" shape-rendering="crispEdges"/>
<rect x="972.41" y="1087.0" width="129.77" height="103.60" fill="#2a67a1" shape-rendering="crispEdges"/>
<rect x="1101.58" y="1087.0" width="129.77" height="103.60" fill="#2d6ba4" shape-rendering="crispEdges"/>
<rect x="1230.75" y="1087.0" width="129.77" height="103.60" fill="#245e9e" shape-rendering="crispEdges"/>
<rect x="1359.92" y="1087.0" width="129.77" height="103.60" fill="#abba71" shape-rendering="crispEdges"/>
<rect x="584.90" y="1190.0" width="129.77" height="102.30" fill="#a5b873" shape-rendering="crispEdges"/>
<rect x="714.07" y="1190.0" width="129.77" height="102.30" fill="#1f5296" shape-rendering="crispEdges"/>
<rect x="843.24" y="1190.0" width="129.77" height="102.30" fill="#3a89b6" shape-rendering="crispEdges"/>
<rect x="972.41" y="1190.0" width="129.77" height="102.30" fill="#22569a" shape-rendering="crispEdges"/>
<rect x="1101.58" y="1190.0" width="129.77" height="102.30" fill="#3279ae" shape-rendering="crispEdges"/>
<rect x="1230.75" y="1190.0" width="129.77" height="102.30" fill="#245e9e" shape-rendering="crispEdges"/>
<rect x="1359.92" y="1190.0" width="129.77" height="102.30" fill="#eab855" shape-rendering="crispEdges"/>
<rect x="584.90" y="1291.7" width="129.77" height="102.40" fill="#e9ae52" shape-rendering="crispEdges"/>
<rect x="714.07" y="1291.7" width="129.77" height="102.40" fill="#84ab84" shape-rendering="crispEdges"/>
<rect x="843.24" y="1291.7" width="129.77" height="102.40" fill="#cec662" shape-rendering="crispEdges"/>
<rect x="972.41" y="1291.7" width="129.77" height="102.40" fill="#5f9c96" shape-rendering="crispEdges"/>
<rect x="1101.58" y="1291.7" width="129.77" height="102.40" fill="#c8352d" shape-rendering="crispEdges"/>
<rect x="1230.75" y="1291.7" width="129.77" height="102.40" fill="#2966a3" shape-rendering="crispEdges"/>
<rect x="1359.92" y="1291.7" width="129.77" height="102.40" fill="#eab855" shape-rendering="crispEdges"/>
<rect x="648.6" y="1396" width="1.8" height="7.5" fill="#444"/>
<text x="649.5" y="1427.0" font-size="19.6" text-anchor="middle" fill="#444">Mon</text>
<rect x="777.8" y="1396" width="1.8" height="7.5" fill="#444"/>
<text x="778.7" y="1427.0" font-size="19.6" text-anchor="middle" fill="#444">Tue</text>
<rect x="906.9" y="1396" width="1.8" height="7.5" fill="#444"/>
<text x="907.8" y="1427.0" font-size="19.6" text-anchor="middle" fill="#444">Wed</text>
<rect x="1036.1" y="1396" width="1.8" height="7.5" fill="#444"/>
<text x="1037.0" y="1427.0" font-size="19.6" text-anchor="middle" fill="#444">Thu</text>
<rect x="1165.3" y="1396" width="1.8" height="7.5" fill="#444"/>
<text x="1166.2" y="1427.0" font-size="19.6" text-anchor="middle" fill="#444">Fri</text>
<rect x="1294.4" y="1396" width="1.8" height="7.5" fill="#444"/>
<text x="1295.3" y="1427.0" font-size="19.6" text-anchor="middle" fill="#444">Sat</text>
<rect x="1423.6" y="1396" width="1.8" height="7.5" fill="#444"/>
<text x="1424.5" y="1427.0" font-size="19.6" text-anchor="middle" fill="#444">Sun</text>
<rect x="575.5" y="933.1" width="7" height="1.8" fill="#444"/>
<text x="571.5" y="941.0" font-size="19.6" text-anchor="end" fill="#444">5</text>
<rect x="575.5" y="1035.1" width="7" height="1.8" fill="#444"/>
<text x="571.5" y="1043.0" font-size="19.6" text-anchor="end" fill="#444">4</text>
<rect x="575.5" y="1137.6" width="7" height="1.8" fill="#444"/>
<text x="571.5" y="1145.5" font-size="19.6" text-anchor="end" fill="#444">3</text>
<rect x="575.5" y="1239.9" width="7" height="1.8" fill="#444"/>
<text x="571.5" y="1247.8" font-size="19.6" text-anchor="end" fill="#444">2</text>
<rect x="575.5" y="1341.7" width="7" height="1.8" fill="#444"/>
<text x="571.5" y="1349.6" font-size="19.6" text-anchor="end" fill="#444">1</text>
<text x="1051.0" y="803.8" font-size="27.3" text-anchor="middle" fill="#444">Heart Rate Zones by Day of Week</text>
<text x="1036.5" y="1477.0" font-size="22.3" text-anchor="middle" fill="#444">Day of Week</text>
<text x="524.5" y="1138.0" font-size="22.3" text-anchor="middle" fill="#444" transform="rotate(-90 524.5 1138.0)">Heart Rate Zones</text>
<defs><linearGradient id="cb" x1="0" y1="1" x2="0" y2="0"><stop offset="0" stop-color="#15327a"/><stop offset="0.25" stop-color="#3a8bb8"/><stop offset="0.5" stop-color="#eed65a"/><stop offset="0.75" stop-color="#ea954c"/><stop offset="1" stop-color="#c8352d"/></linearGradient></defs>
<rect x="1522.2" y="898.5" width="47.6" height="480" fill="url(#cb)" stroke="#555" stroke-width="1.4"/>
<text x="1576.0" y="979.3" font-size="19.6" text-anchor="start" fill="#444">500</text>
<text x="1576.0" y="1061.3" font-size="19.6" text-anchor="start" fill="#444">400</text>
<text x="1576.0" y="1142.9" font-size="19.6" text-anchor="start" fill="#444">300</text>
<text x="1576.0" y="1223.4" font-size="19.6" text-anchor="start" fill="#444">200</text>
<text x="1576.0" y="1304.9" font-size="19.6" text-anchor="start" fill="#444">100</text>
<defs><clipPath id="gl"><rect x="1690" y="860" width="1140" height="533.5"/></clipPath></defs>
<g clip-path="url(#gl)"><line x1="2262.3" y1="985.4" x2="2541.6" y2="1090.4" stroke="#dadada" stroke-width="1.0"/>
<line x1="2266.9" y1="1008.5" x2="2534.7" y2="1117.0" stroke="#dadada" stroke-width="1.0"/>
<line x1="2269.3" y1="1029.7" x2="2526.6" y2="1141.2" stroke="#dadada" stroke-width="1.0"/>
<line x1="2271.6" y1="1050.0" x2="2519.7" y2="1165.5" stroke="#dadada" stroke-width="1.0"/>
<line x1="2273.9" y1="1068.5" x2="2512.8" y2="1187.4" stroke="#dadada" stroke-width="1.0"/>
<line x1="2276.2" y1="1087.0" x2="2505.9" y2="1209.3" stroke="#dadada" stroke-width="1.0"/>
<line x1="2278.5" y1="1105.4" x2="2499.6" y2="1228.2" stroke="#dadada" stroke-width="1.0"/>
<line x1="2280.8" y1="1121.6" x2="2493.6" y2="1246.7" stroke="#dadada" stroke-width="1.0"/>
<line x1="2269.3" y1="973.9" x2="2268.3" y2="1114.7" stroke="#dadada" stroke-width="1.0"/>
<line x1="2314.3" y1="990.5" x2="2306.6" y2="1135.4" stroke="#dadada" stroke-width="1.0"/>
<line x1="2364.4" y1="1008.5" x2="2347.7" y2="1160.8" stroke="#dadada" stroke-width="1.0"/>
<line x1="2421.6" y1="1028.8" x2="2395.8" y2="1186.2" stroke="#dadada" stroke-width="1.0"/>
<line x1="2486.2" y1="1051.2" x2="2448.2" y2="1215.1" stroke="#dadada" stroke-width="1.0"/>
<line x1="2268.3" y1="1114.7" x2="2051.9" y2="1191.2" stroke="#dadada" stroke-width="1.0"/>
<line x1="2306.6" y1="1135.4" x2="2083.1" y2="1220.0" stroke="#dadada" stroke-width="1.0"/>
<line x1="2347.7" y1="1160.8" x2="2120.0" y2="1253.5" stroke="#dadada" stroke-width="1.0"/>
<line x1="2395.8" y1="1186.2" x2="2161.6" y2="1289.3" stroke="#dadada" stroke-width="1.0"/>
<line x1="2448.2" y1="1215.1" x2="2208.9" y2="1330.8" stroke="#dadada" stroke-width="1.0"/>
<line x1="2507.0" y1="1247.4" x2="2263.2" y2="1380.5" stroke="#dadada" stroke-width="1.0"/>
<line x1="2238.9" y1="1111.9" x2="2475.2" y2="1235.0" stroke="#dadada" stroke-width="1.0"/>
<line x1="2212.6" y1="1122.9" x2="2460.6" y2="1256.4" stroke="#dadada" stroke-width="1.0"/>
<line x1="2186.3" y1="1133.9" x2="2446.0" y2="1277.7" stroke="#dadada" stroke-width="1.0"/>
<line x1="2160.1" y1="1144.9" x2="2431.5" y2="1299.1" stroke="#dadada" stroke-width="1.0"/>
<line x1="2133.8" y1="1155.9" x2="2416.9" y2="1320.5" stroke="#dadada" stroke-width="1.0"/>
<line x1="2107.6" y1="1166.9" x2="2402.3" y2="1341.9" stroke="#dadada" stroke-width="1.0"/>
<line x1="2081.3" y1="1177.8" x2="2387.7" y2="1363.3" stroke="#dadada" stroke-width="1.0"/>
<line x1="2055.1" y1="1188.8" x2="2373.1" y2="1384.6" stroke="#dadada" stroke-width="1.0"/>
<line x1="2008.2" y1="1044.4" x2="2222.0" y2="971.3" stroke="#dadada" stroke-width="1.0"/>
<line x1="2013.8" y1="1068.8" x2="2225.7" y2="998.3" stroke="#dadada" stroke-width="1.0"/>
<line x1="2021.3" y1="1092.1" x2="2229.5" y2="1023.8" stroke="#dadada" stroke-width="1.0"/>
<line x1="2026.9" y1="1114.6" x2="2231.4" y2="1048.2" stroke="#dadada" stroke-width="1.0"/>
<line x1="2032.5" y1="1135.6" x2="2233.2" y2="1070.7" stroke="#dadada" stroke-width="1.0"/>
<line x1="2040.1" y1="1158.8" x2="2235.1" y2="1091.3" stroke="#dadada" stroke-width="1.0"/>
<line x1="2045.7" y1="1177.6" x2="2237.0" y2="1110.1" stroke="#dadada" stroke-width="1.0"/>
<line x1="2051.3" y1="1190.7" x2="2238.9" y2="1125.1" stroke="#dadada" stroke-width="1.0"/>
<line x1="2032.5" y1="1020.0" x2="2051.7" y2="1181.3" stroke="#dadada" stroke-width="1.0"/>
<line x1="2061.8" y1="1009.5" x2="2079.2" y2="1170.8" stroke="#dadada" stroke-width="1.0"/>
<line x1="2086.9" y1="1000.5" x2="2102.8" y2="1161.8" stroke="#dadada" stroke-width="1.0"/>
<line x1="2114.3" y1="991.9" x2="2128.5" y2="1153.2" stroke="#dadada" stroke-width="1.0"/>
<line x1="2138.3" y1="983.3" x2="2151.1" y2="1144.6" stroke="#dadada" stroke-width="1.0"/>
<line x1="2160.1" y1="976.9" x2="2171.6" y2="1138.2" stroke="#dadada" stroke-width="1.0"/>
<line x1="2181.8" y1="969.4" x2="2192.0" y2="1130.7" stroke="#dadada" stroke-width="1.0"/>
<line x1="2202.1" y1="963.8" x2="2211.1" y2="1125.1" stroke="#dadada" stroke-width="1.0"/>
<line x1="2222.0" y1="958.1" x2="2229.7" y2="1119.4" stroke="#dadada" stroke-width="1.0"/>
<line x1="2229.5" y1="959.3" x2="2229.5" y2="975.0" stroke="#444" stroke-width="1.3"/>
<line x1="2051.3" y1="1190.7" x2="2064.4" y2="1185.1" stroke="#444" stroke-width="1.5"/>
<polygon points="2040.8,1086.3 2041.4,1099.5 2045.9,1118.6 2050.5,1128.7 2050.9,1129.7 2051.2,1130.7 2051.4,1131.7 2051.4,1132.8 2051.4,1133.8 2051.3,1134.8 2051.0,1135.9 2047.8,1147.4 2049.9,1157.2 2055.5,1167.1 2066.7,1172.7 2067.6,1173.2 2068.5,1173.8 2069.3,1174.5 2070.0,1175.3 2070.7,1176.2 2074.8,1182.3 2085.5,1186.2 2086.5,1186.6 2087.4,1187.1 2088.3,1187.6 2089.1,1188.3 2100.9,1199.2 2114.3,1210.6 2127.7,1219.2 2128.5,1219.8 2142.0,1230.4 2162.5,1243.1 2163.3,1243.7 2164.1,1244.3 2164.8,1245.0 2165.4,1245.8 2178.5,1263.6 2197.7,1278.2 2199.2,1279.0 2199.7,1278.6 2194.8,1254.5 2191.0,1240.9 2190.7,1239.8 2190.6,1238.7 2190.6,1237.6 2190.7,1236.5 2190.9,1235.4 2191.2,1234.3 2196.2,1221.0 2192.7,1200.8 2192.6,1200.4 2188.6,1171.4 2188.6,1170.4 2188.6,1169.4 2188.7,1168.4 2188.9,1167.4 2189.2,1166.4 2189.6,1165.5 2190.0,1164.6 2190.6,1163.8 2191.2,1163.0 2192.0,1162.3 2192.7,1161.6 2206.4,1151.4 2209.3,1144.1 2209.7,1143.2 2210.2,1142.3 2210.8,1141.5 2211.5,1140.7 2212.2,1140.1 2213.0,1139.4 2213.9,1138.9 2214.8,1138.4 2215.7,1138.1 2216.7,1137.8 2217.7,1137.6 2218.7,1137.6 2219.7,1137.6 2220.7,1137.7 2221.7,1137.9 2222.7,1138.2 2223.6,1138.6 2224.5,1139.1 2225.3,1139.7 2226.1,1140.3 2235.6,1149.1 2246.3,1147.8 2257.0,1143.4 2257.7,1143.1 2274.7,1137.4 2275.5,1135.9 2274.7,1135.5 2273.8,1135.1 2273.0,1134.5 2272.2,1133.9 2271.4,1133.2 2270.8,1132.5 2270.2,1131.7 2269.7,1130.8 2269.3,1129.9 2269.0,1128.9 2268.7,1128.0 2268.6,1127.0 2268.6,1126.0 2268.6,1093.1 2263.9,1070.5 2253.9,1036.6 2201.1,1030.6 2064.0,1074.7 2040.8,1086.3" fill="#3875af" stroke="#3875af" stroke-width="6"/><circle cx="2040.1" cy="1085.0" r="11.0" fill="#3875af"/><circle cx="2041.7" cy="1093.3" r="11.0" fill="#3875af"/><circle cx="2042.4" cy="1102.8" r="11.0" fill="#3875af"/><circle cx="2042.7" cy="1111.6" r="11.0" fill="#3875af"/><circle cx="2044.8" cy="1119.5" r="11.0" fill="#3875af"/><circle cx="2048.4" cy="1126.1" r="11.0" fill="#3875af"/><circle cx="2050.8" cy="1137.0" r="11.0" fill="#3875af"/><circle cx="2047.4" cy="1143.0" r="11.0" fill="#3875af"/><circle cx="2049.3" cy="1153.9" r="11.0" fill="#3875af"/><circle cx="2051.9" cy="1159.9" r="11.0" fill="#3875af"/><circle cx="2057.8" cy="1165.7" r="11.0" fill="#3875af"/><circle cx="2065.0" cy="1170.4" r="11.0" fill="#3875af"/><circle cx="2069.3" cy="1174.7" r="11.0" fill="#3875af"/><circle cx="2075.0" cy="1183.8" r="11.0" fill="#3875af"/><circle cx="2082.6" cy="1185.8" r="11.0" fill="#3875af"/><circle cx="2091.4" cy="1189.5" r="11.0" fill="#3875af"/><circle cx="2097.4" cy="1194.2" r="11.0" fill="#3875af"/><circle cx="2102.0" cy="1200.4" r="11.0" fill="#3875af"/><circle cx="2110.7" cy="1206.7" r="11.0" fill="#3875af"/><circle cx="2116.1" cy="1212.5" r="11.0" fill="#3875af"/><circle cx="2123.7" cy="1216.1" r="11.0" fill="#3875af"/><circle cx="2132.0" cy="1222.4" r="11.0" fill="#3875af"/><circle cx="2136.7" cy="1227.2" r="11.0" fill="#3875af"/><circle cx="2144.6" cy="1233.3" r="11.0" fill="#3875af"/><circle cx="2152.6" cy="1235.7" r="11.0" fill="#3875af"/><circle cx="2160.7" cy="1239.6" r="11.0" fill="#3875af"/><circle cx="2165.4" cy="1247.1" r="11.0" fill="#3875af"/><circle cx="2169.5" cy="1253.0" r="11.0" fill="#3875af"/><circle cx="2174.1" cy="1260.5" r="11.0" fill="#3875af"/><circle cx="2182.6" cy="1266.2" r="11.0" fill="#3875af"/><circle cx="2189.8" cy="1270.5" r="11.0" fill="#3875af"/><circle cx="2195.9" cy="1276.7" r="11.0" fill="#3875af"/><circle cx="2199.3" cy="1275.4" r="11.0" fill="#3875af"/><circle cx="2198.6" cy="1268.8" r="11.0" fill="#3875af"/><circle cx="2195.6" cy="1259.4" r="11.0" fill="#3875af"/><circle cx="2192.1" cy="1251.3" r="11.0" fill="#3875af"/><circle cx="2191.9" cy="1244.1" r="11.0" fill="#3875af"/><circle cx="2192.5" cy="1233.2" r="11.0" fill="#3875af"/><circle cx="2193.9" cy="1226.6" r="11.0" fill="#3875af"/><circle cx="2194.0" cy="1217.7" r="11.0" fill="#3875af"/><circle cx="2193.0" cy="1208.1" r="11.0" fill="#3875af"/><circle cx="2191.2" cy="1202.0" r="11.0" fill="#3875af"/><circle cx="2190.2" cy="1191.7" r="11.0" fill="#3875af"/><circle cx="2190.0" cy="1185.5" r="11.0" fill="#3875af"/><circle cx="2187.7" cy="1175.5" r="11.0" fill="#3875af"/><circle cx="2189.1" cy="1168.6" r="11.0" fill="#3875af"/><circle cx="2195.2" cy="1162.0" r="11.0" fill="#3875af"/><circle cx="2200.0" cy="1155.3" r="11.0" fill="#3875af"/><circle cx="2206.5" cy="1151.3" r="11.0" fill="#3875af"/><circle cx="2212.0" cy="1140.8" r="11.0" fill="#3875af"/><circle cx="2216.2" cy="1136.7" r="11.0" fill="#3875af"/><circle cx="2224.5" cy="1139.7" r="11.0" fill="#3875af"/><circle cx="2232.0" cy="1144.7" r="11.0" fill="#3875af"/><circle cx="2237.1" cy="1148.4" r="11.0" fill="#3875af"/><circle cx="2246.8" cy="1147.6" r="11.0" fill="#3875af"/><circle cx="2256.8" cy="1144.8" r="11.0" fill="#3875af"/><circle cx="2263.2" cy="1141.7" r="11.0" fill="#3875af"/><circle cx="2271.9" cy="1137.0" r="11.0" fill="#3875af"/><circle cx="2274.2" cy="1135.4" r="11.0" fill="#3875af"/><circle cx="2270.0" cy="1128.3" r="11.0" fill="#3875af"/><circle cx="2268.2" cy="1118.3" r="11.0" fill="#3875af"/><circle cx="2267.1" cy="1110.6" r="11.0" fill="#3875af"/><circle cx="2267.0" cy="1100.1" r="11.0" fill="#3875af"/><circle cx="2267.5" cy="1091.9" r="11.0" fill="#3875af"/><circle cx="2266.2" cy="1083.1" r="11.0" fill="#3875af"/><circle cx="2263.3" cy="1075.1" r="11.0" fill="#3875af"/><circle cx="2261.7" cy="1067.6" r="11.0" fill="#3875af"/><circle cx="2259.0" cy="1061.2" r="11.0" fill="#3875af"/><circle cx="2258.8" cy="1050.4" r="11.0" fill="#3875af"/><circle cx="2255.1" cy="1043.0" r="11.0" fill="#3875af"/><circle cx="2252.1" cy="1035.1" r="11.0" fill="#3875af"/><circle cx="2245.4" cy="1037.3" r="11.0" fill="#3875af"/><circle cx="2235.5" cy="1034.5" r="11.0" fill="#3875af"/><circle cx="2225.7" cy="1032.2" r="11.0" fill="#3875af"/><circle cx="2218.1" cy="1031.8" r="11.0" fill="#3875af"/><circle cx="2211.4" cy="1030.5" r="11.0" fill="#3875af"/><circle cx="2200.0" cy="1032.3" r="11.0" fill="#3875af"/><circle cx="2193.7" cy="1031.8" r="11.0" fill="#3875af"/><circle cx="2185.6" cy="1033.9" r="11.0" fill="#3875af"/><circle cx="2177.4" cy="1040.0" r="11.0" fill="#3875af"/><circle cx="2170.5" cy="1041.6" r="11.0" fill="#3875af"/><circle cx="2160.2" cy="1043.0" r="11.0" fill="#3875af"/><circle cx="2151.8" cy="1047.1" r="11.0" fill="#3875af"/><circle cx="2145.0" cy="1049.7" r="11.0" fill="#3875af"/><circle cx="2136.1" cy="1050.3" r="11.0" fill="#3875af"/><circle cx="2129.7" cy="1055.7" r="11.0" fill="#3875af"/><circle cx="2121.8" cy="1057.6" r="11.0" fill="#3875af"/><circle cx="2113.5" cy="1060.0" r="11.0" fill="#3875af"/><circle cx="2103.3" cy="1061.8" r="11.0" fill="#3875af"/><circle cx="2095.6" cy="1062.7" r="11.0" fill="#3875af"/><circle cx="2086.3" cy="1066.2" r="11.0" fill="#3875af"/><circle cx="2079.0" cy="1070.3" r="11.0" fill="#3875af"/><circle cx="2073.4" cy="1072.0" r="11.0" fill="#3875af"/><circle cx="2065.2" cy="1076.6" r="11.0" fill="#3875af"/><circle cx="2057.7" cy="1078.2" r="11.0" fill="#3875af"/><circle cx="2047.4" cy="1081.5" r="11.0" fill="#3875af"/>
<polygon points="2147.3,1194.0 2154.0,1189.5 2161.6,1187.1 2167.1,1191.6 2171.9,1204.3 2180.6,1220.2 2185.4,1231.3 2182.2,1233.7 2175.1,1221.7 2167.1,1207.5 2159.2,1199.5 2149.7,1197.1" fill="#fff" stroke="#fff" stroke-width="1.5" stroke-linejoin="round"/>
<circle cx="2173.9" cy="1257.8" r="11.0" fill="#3875af"/><circle cx="2181.8" cy="1268.4" r="11.0" fill="#3875af"/><circle cx="2188.9" cy="1273.2" r="11.0" fill="#3875af"/><circle cx="2194.4" cy="1281.3" r="11.0" fill="#3875af"/><circle cx="2198.3" cy="1286.9" r="11.0" fill="#3875af"/>
<circle cx="2197.8" cy="1244.5" r="11.0" fill="#3875af"/><circle cx="2197.5" cy="1253.8" r="11.0" fill="#3875af"/><circle cx="2195.1" cy="1266.1" r="11.0" fill="#3875af"/><circle cx="2195.8" cy="1276.9" r="11.0" fill="#3875af"/>
<circle cx="2205.5" cy="1175.7" r="11.0" fill="#3875af"/><circle cx="2205.2" cy="1187.2" r="11.0" fill="#3875af"/><circle cx="2209.9" cy="1191.7" r="11.0" fill="#3875af"/><circle cx="2213.4" cy="1198.1" r="11.0" fill="#3875af"/><circle cx="2224.5" cy="1206.8" r="11.0" fill="#3875af"/><circle cx="2228.3" cy="1211.9" r="11.0" fill="#3875af"/><circle cx="2241.3" cy="1210.2" r="11.0" fill="#3875af"/><circle cx="2245.2" cy="1211.8" r="11.0" fill="#3875af"/><circle cx="2247.7" cy="1217.5" r="11.0" fill="#3875af"/><circle cx="2257.1" cy="1227.9" r="11.0" fill="#3875af"/><circle cx="2262.0" cy="1235.0" r="11.0" fill="#3875af"/><circle cx="2269.0" cy="1231.6" r="11.0" fill="#3875af"/><circle cx="2276.3" cy="1234.7" r="11.0" fill="#3875af"/><circle cx="2278.7" cy="1241.9" r="11.0" fill="#3875af"/><circle cx="2287.3" cy="1241.5" r="11.0" fill="#3875af"/><circle cx="2290.3" cy="1249.3" r="11.0" fill="#3875af"/><circle cx="2293.3" cy="1260.1" r="11.0" fill="#3875af"/><circle cx="2298.9" cy="1265.8" r="11.0" fill="#3875af"/><circle cx="2305.3" cy="1275.4" r="11.0" fill="#3875af"/><circle cx="2311.0" cy="1281.9" r="11.0" fill="#3875af"/><circle cx="2319.1" cy="1284.7" r="11.0" fill="#3875af"/><circle cx="2327.6" cy="1283.5" r="11.0" fill="#3875af"/><circle cx="2333.7" cy="1279.4" r="11.0" fill="#3875af"/><circle cx="2335.1" cy="1274.1" r="11.0" fill="#3875af"/><circle cx="2338.4" cy="1273.0" r="11.0" fill="#3875af"/><circle cx="2342.4" cy="1282.5" r="11.0" fill="#3875af"/><circle cx="2345.4" cy="1289.4" r="11.0" fill="#3875af"/><circle cx="2353.0" cy="1297.2" r="11.0" fill="#3875af"/><circle cx="2357.2" cy="1302.5" r="11.0" fill="#3875af"/><circle cx="2365.9" cy="1305.5" r="11.0" fill="#3875af"/><circle cx="2375.4" cy="1303.1" r="11.0" fill="#3875af"/><circle cx="2377.1" cy="1301.8" r="11.0" fill="#3875af"/><circle cx="2372.7" cy="1307.0" r="11.0" fill="#3875af"/><circle cx="2363.9" cy="1311.9" r="11.0" fill="#3875af"/><circle cx="2354.4" cy="1314.5" r="11.0" fill="#3875af"/>
<circle cx="2221.3" cy="1208.7" r="11.0" fill="#3875af"/><circle cx="2229.6" cy="1217.4" r="11.0" fill="#3875af"/><circle cx="2239.0" cy="1223.2" r="11.0" fill="#3875af"/><circle cx="2248.5" cy="1225.7" r="11.0" fill="#3875af"/><circle cx="2254.3" cy="1236.0" r="11.0" fill="#3875af"/><circle cx="2264.3" cy="1237.1" r="11.0" fill="#3875af"/><circle cx="2268.2" cy="1245.0" r="11.0" fill="#3875af"/><circle cx="2275.8" cy="1250.1" r="11.0" fill="#3875af"/><circle cx="2282.3" cy="1260.5" r="11.0" fill="#3875af"/><circle cx="2293.1" cy="1269.7" r="11.0" fill="#3875af"/><circle cx="2295.9" cy="1276.5" r="11.0" fill="#3875af"/><circle cx="2307.0" cy="1279.1" r="11.0" fill="#3875af"/><circle cx="2317.1" cy="1289.2" r="11.0" fill="#3875af"/><circle cx="2322.0" cy="1294.2" r="11.0" fill="#3875af"/><circle cx="2332.0" cy="1296.2" r="11.0" fill="#3875af"/><circle cx="2344.7" cy="1302.9" r="11.0" fill="#3875af"/><circle cx="2348.8" cy="1305.0" r="11.0" fill="#3875af"/>
<circle cx="2211.3" cy="1195.5" r="11.0" fill="#3875af"/><circle cx="2216.2" cy="1203.2" r="11.0" fill="#3875af"/><circle cx="2226.1" cy="1209.3" r="11.0" fill="#3875af"/><circle cx="2231.8" cy="1219.6" r="11.0" fill="#3875af"/><circle cx="2236.5" cy="1225.6" r="11.0" fill="#3875af"/><circle cx="2248.4" cy="1232.9" r="11.0" fill="#3875af"/><circle cx="2253.3" cy="1241.9" r="11.0" fill="#3875af"/><circle cx="2265.4" cy="1248.7" r="11.0" fill="#3875af"/><circle cx="2269.0" cy="1251.3" r="11.0" fill="#3875af"/><circle cx="2276.3" cy="1261.4" r="11.0" fill="#3875af"/><circle cx="2285.2" cy="1264.6" r="11.0" fill="#3875af"/><circle cx="2293.6" cy="1276.3" r="11.0" fill="#3875af"/><circle cx="2304.1" cy="1278.8" r="11.0" fill="#3875af"/><circle cx="2309.0" cy="1287.9" r="11.0" fill="#3875af"/><circle cx="2320.5" cy="1291.7" r="11.0" fill="#3875af"/><circle cx="2327.1" cy="1291.9" r="11.0" fill="#3875af"/><circle cx="2340.5" cy="1297.6" r="11.0" fill="#3875af"/>
<circle cx="2279.5" cy="1116.0" r="11.0" fill="#3875af"/><circle cx="2287.0" cy="1123.2" r="11.0" fill="#3875af"/><circle cx="2289.0" cy="1131.3" r="11.0" fill="#3875af"/><circle cx="2293.5" cy="1139.2" r="11.0" fill="#3875af"/><circle cx="2298.3" cy="1145.3" r="11.0" fill="#3875af"/><circle cx="2296.5" cy="1154.5" r="11.0" fill="#3875af"/><circle cx="2286.6" cy="1154.1" r="11.0" fill="#3875af"/><circle cx="2279.4" cy="1158.1" r="11.0" fill="#3875af"/><circle cx="2269.8" cy="1159.1" r="11.0" fill="#3875af"/><circle cx="2265.9" cy="1150.9" r="11.0" fill="#3875af"/><circle cx="2266.8" cy="1145.9" r="11.0" fill="#3875af"/><circle cx="2277.8" cy="1148.4" r="11.0" fill="#3875af"/><circle cx="2285.3" cy="1150.5" r="11.0" fill="#3875af"/><circle cx="2292.9" cy="1153.2" r="11.0" fill="#3875af"/><circle cx="2300.6" cy="1157.3" r="11.0" fill="#3875af"/><circle cx="2311.2" cy="1164.1" r="11.0" fill="#3875af"/><circle cx="2316.8" cy="1167.6" r="11.0" fill="#3875af"/><circle cx="2329.0" cy="1169.2" r="11.0" fill="#3875af"/><circle cx="2337.2" cy="1169.3" r="11.0" fill="#3875af"/><circle cx="2335.7" cy="1178.5" r="11.0" fill="#3875af"/><circle cx="2331.4" cy="1183.6" r="11.0" fill="#3875af"/><circle cx="2323.8" cy="1187.3" r="11.0" fill="#3875af"/><circle cx="2313.1" cy="1188.0" r="11.0" fill="#3875af"/><circle cx="2305.8" cy="1188.4" r="11.0" fill="#3875af"/><circle cx="2313.0" cy="1189.2" r="11.0" fill="#3875af"/><circle cx="2320.1" cy="1190.3" r="11.0" fill="#3875af"/><circle cx="2328.0" cy="1198.2" r="11.0" fill="#3875af"/><circle cx="2336.2" cy="1200.6" r="11.0" fill="#3875af"/><circle cx="2339.4" cy="1212.2" r="11.0" fill="#3875af"/><circle cx="2350.1" cy="1205.9" r="11.0" fill="#3875af"/><circle cx="2354.1" cy="1197.7" r="11.0" fill="#3875af"/><circle cx="2358.7" cy="1197.0" r="11.0" fill="#3875af"/><circle cx="2356.5" cy="1205.9" r="11.0" fill="#3875af"/><circle cx="2361.9" cy="1215.1" r="11.0" fill="#3875af"/><circle cx="2370.6" cy="1218.4" r="11.0" fill="#3875af"/><circle cx="2358.4" cy="1223.7" r="11.0" fill="#3875af"/><circle cx="2350.1" cy="1223.9" r="11.0" fill="#3875af"/><circle cx="2356.4" cy="1228.0" r="11.0" fill="#3875af"/><circle cx="2363.4" cy="1236.2" r="11.0" fill="#3875af"/>
<circle cx="2284.4" cy="1130.0" r="11.0" fill="#3875af"/><circle cx="2290.0" cy="1136.8" r="11.0" fill="#3875af"/><circle cx="2297.2" cy="1145.8" r="11.0" fill="#3875af"/><circle cx="2303.6" cy="1151.7" r="11.0" fill="#3875af"/><circle cx="2311.9" cy="1161.2" r="11.0" fill="#3875af"/><circle cx="2320.3" cy="1171.2" r="11.0" fill="#3875af"/><circle cx="2328.0" cy="1180.1" r="11.0" fill="#3875af"/><circle cx="2334.4" cy="1189.7" r="11.0" fill="#3875af"/><circle cx="2339.1" cy="1194.7" r="11.0" fill="#3875af"/><circle cx="2349.2" cy="1201.9" r="11.0" fill="#3875af"/><circle cx="2354.6" cy="1212.9" r="11.0" fill="#3875af"/><circle cx="2357.4" cy="1222.0" r="11.0" fill="#3875af"/>
<circle cx="2230.5" cy="1146.8" r="11.0" fill="#3875af"/><circle cx="2234.2" cy="1158.9" r="11.0" fill="#3875af"/><circle cx="2238.3" cy="1167.1" r="11.0" fill="#3875af"/>
<circle cx="2240.1" cy="1180.8" r="11.0" fill="#3875af"/>
<circle cx="2257.6" cy="1027.4" r="11.0" fill="#3875af"/>
<polygon points="2079.6,1069.6 2084.7,1069.6 2085.6,1069.6 2086.5,1069.8 2087.5,1070.0 2088.4,1070.3 2089.2,1070.6 2090.0,1071.1 2101.6,1078.0 2102.4,1078.6 2103.2,1079.2 2104.0,1080.0 2104.6,1080.8 2105.2,1081.6 2105.7,1082.5 2106.1,1083.5 2106.4,1084.4 2107.5,1089.0 2108.2,1089.3 2117.6,1085.4 2118.5,1085.1 2134.5,1080.1 2141.9,1072.7 2142.7,1072.0 2143.5,1071.4 2144.3,1070.9 2145.2,1070.4 2146.1,1070.1 2147.1,1069.8 2148.1,1069.7 2149.1,1069.6 2150.1,1069.6 2151.0,1069.7 2152.0,1070.0 2153.0,1070.3 2153.9,1070.7 2154.8,1071.1 2155.6,1071.7 2162.8,1077.1 2168.8,1078.1 2176.5,1070.3 2177.3,1069.7 2178.1,1069.0 2179.0,1068.5 2179.9,1068.1 2180.9,1067.7 2181.9,1067.5 2182.9,1067.3 2183.9,1067.3 2185.0,1067.3 2186.0,1067.5 2187.0,1067.7 2187.9,1068.1 2188.9,1068.5 2189.7,1069.0 2190.6,1069.7 2191.3,1070.3 2200.6,1079.6 2211.6,1090.6 2221.6,1098.1 2224.3,1097.8 2227.0,1093.9 2224.8,1083.5 2218.4,1070.9 2218.0,1069.9 2217.7,1069.0 2217.5,1068.0 2217.4,1066.9 2217.3,1065.9 2217.4,1064.9 2217.6,1063.9 2217.9,1062.9 2218.3,1061.9 2218.7,1061.0 2219.3,1060.2 2219.9,1059.3 2220.6,1058.6 2221.4,1057.9 2222.2,1057.4 2223.1,1056.8 2237.0,1049.9 2238.0,1049.5 2239.0,1049.2 2240.0,1048.9 2241.1,1048.8 2242.2,1048.8 2243.2,1048.9 2244.3,1049.2 2245.3,1049.5 2254.5,1052.9 2255.5,1053.4 2256.4,1053.8 2257.2,1054.4 2258.0,1055.1 2258.7,1055.8 2263.8,1061.5 2264.3,1059.4 2259.3,1041.3 2259.0,1040.0 2256.9,1025.2 2252.2,1014.1 2243.8,1010.6 2236.3,1013.6 2235.3,1013.9 2234.4,1014.1 2233.4,1014.3 2208.0,1016.6 2207.1,1016.6 2206.2,1016.6 2205.3,1016.5 2204.4,1016.3 2188.7,1012.2 2187.3,1019.6 2187.0,1020.7 2186.7,1021.7 2186.2,1022.7 2185.7,1023.6 2185.0,1024.4 2184.3,1025.2 2183.5,1025.9 2182.6,1026.5 2181.7,1027.1 2158.6,1038.6 2157.6,1039.0 2156.5,1039.4 2155.5,1039.6 2132.6,1043.0 2109.8,1047.6 2109.0,1047.7 2108.3,1047.8 2090.4,1048.7 2090.0,1049.4 2088.1,1061.0 2087.8,1062.0 2087.5,1062.9 2087.2,1063.8 2086.7,1064.7 2086.1,1065.5 2085.5,1066.3 2084.8,1067.0 2084.0,1067.6 2083.2,1068.2 2082.4,1068.7 2081.4,1069.0 2080.5,1069.4 2079.6,1069.6" fill="#529d3e" stroke="#529d3e" stroke-width="6"/><circle cx="2079.6" cy="1070.8" r="11.0" fill="#529d3e"/><circle cx="2089.2" cy="1071.4" r="11.0" fill="#529d3e"/><circle cx="2095.9" cy="1075.8" r="11.0" fill="#529d3e"/><circle cx="2103.5" cy="1079.6" r="11.0" fill="#529d3e"/><circle cx="2105.8" cy="1084.6" r="11.0" fill="#529d3e"/><circle cx="2111.4" cy="1086.9" r="11.0" fill="#529d3e"/><circle cx="2119.3" cy="1085.6" r="11.0" fill="#529d3e"/><circle cx="2129.2" cy="1082.3" r="11.0" fill="#529d3e"/><circle cx="2136.9" cy="1078.8" r="11.0" fill="#529d3e"/><circle cx="2142.5" cy="1070.3" r="11.0" fill="#529d3e"/><circle cx="2151.6" cy="1070.6" r="11.0" fill="#529d3e"/><circle cx="2158.0" cy="1073.6" r="11.0" fill="#529d3e"/><circle cx="2165.9" cy="1075.9" r="11.0" fill="#529d3e"/><circle cx="2173.2" cy="1073.6" r="11.0" fill="#529d3e"/><circle cx="2177.1" cy="1067.9" r="11.0" fill="#529d3e"/><circle cx="2187.7" cy="1066.7" r="11.0" fill="#529d3e"/><circle cx="2194.6" cy="1074.5" r="11.0" fill="#529d3e"/><circle cx="2199.8" cy="1078.4" r="11.0" fill="#529d3e"/><circle cx="2205.8" cy="1085.5" r="11.0" fill="#529d3e"/><circle cx="2212.9" cy="1091.3" r="11.0" fill="#529d3e"/><circle cx="2219.3" cy="1094.5" r="11.0" fill="#529d3e"/><circle cx="2224.4" cy="1095.0" r="11.0" fill="#529d3e"/><circle cx="2226.6" cy="1087.2" r="11.0" fill="#529d3e"/><circle cx="2223.2" cy="1078.1" r="11.0" fill="#529d3e"/><circle cx="2217.5" cy="1071.4" r="11.0" fill="#529d3e"/><circle cx="2218.2" cy="1064.7" r="11.0" fill="#529d3e"/><circle cx="2223.1" cy="1056.5" r="11.0" fill="#529d3e"/><circle cx="2230.1" cy="1053.2" r="11.0" fill="#529d3e"/><circle cx="2237.6" cy="1048.2" r="11.0" fill="#529d3e"/><circle cx="2247.5" cy="1048.7" r="11.0" fill="#529d3e"/><circle cx="2255.8" cy="1054.4" r="11.0" fill="#529d3e"/><circle cx="2259.0" cy="1057.9" r="11.0" fill="#529d3e"/><circle cx="2265.0" cy="1059.4" r="11.0" fill="#529d3e"/><circle cx="2261.4" cy="1048.6" r="11.0" fill="#529d3e"/><circle cx="2258.2" cy="1042.8" r="11.0" fill="#529d3e"/><circle cx="2256.9" cy="1033.0" r="11.0" fill="#529d3e"/><circle cx="2255.2" cy="1024.4" r="11.0" fill="#529d3e"/><circle cx="2254.8" cy="1015.1" r="11.0" fill="#529d3e"/><circle cx="2247.7" cy="1011.8" r="11.0" fill="#529d3e"/><circle cx="2240.1" cy="1013.4" r="11.0" fill="#529d3e"/><circle cx="2229.4" cy="1016.0" r="11.0" fill="#529d3e"/><circle cx="2221.8" cy="1013.6" r="11.0" fill="#529d3e"/><circle cx="2211.5" cy="1016.1" r="11.0" fill="#529d3e"/><circle cx="2204.6" cy="1015.7" r="11.0" fill="#529d3e"/><circle cx="2195.2" cy="1013.7" r="11.0" fill="#529d3e"/><circle cx="2187.9" cy="1013.9" r="11.0" fill="#529d3e"/><circle cx="2185.1" cy="1022.0" r="11.0" fill="#529d3e"/><circle cx="2182.6" cy="1025.9" r="11.0" fill="#529d3e"/><circle cx="2175.2" cy="1031.8" r="11.0" fill="#529d3e"/><circle cx="2167.5" cy="1034.1" r="11.0" fill="#529d3e"/><circle cx="2157.9" cy="1038.3" r="11.0" fill="#529d3e"/><circle cx="2151.8" cy="1040.7" r="11.0" fill="#529d3e"/><circle cx="2141.0" cy="1041.4" r="11.0" fill="#529d3e"/><circle cx="2132.2" cy="1041.3" r="11.0" fill="#529d3e"/><circle cx="2123.2" cy="1045.8" r="11.0" fill="#529d3e"/><circle cx="2115.5" cy="1047.9" r="11.0" fill="#529d3e"/><circle cx="2106.9" cy="1047.0" r="11.0" fill="#529d3e"/><circle cx="2099.3" cy="1047.1" r="11.0" fill="#529d3e"/><circle cx="2090.2" cy="1050.3" r="11.0" fill="#529d3e"/><circle cx="2090.1" cy="1057.9" r="11.0" fill="#529d3e"/><circle cx="2087.0" cy="1066.4" r="11.0" fill="#529d3e"/>
<polygon points="2175.9,1047.3 2191.3,1043.6 2188.6,1051.9 2180.5,1052.8" fill="#3875af"/>
<polygon points="2197.3,1045.0 2204.2,1050.0 2209.8,1062.0 2204.2,1060.7 2200.1,1053.5" fill="#3875af"/>
<circle cx="2038.7" cy="1079.7" r="11.0" fill="#529d3e"/><circle cx="2042.3" cy="1084.1" r="11.0" fill="#529d3e"/><circle cx="2046.4" cy="1090.3" r="11.0" fill="#529d3e"/>
<circle cx="2084.7" cy="1091.6" r="11.0" fill="#ef8636"/>
<circle cx="2068.6" cy="1091.2" r="11.0" fill="#529d3e"/><circle cx="2073.2" cy="1095.1" r="11.0" fill="#529d3e"/><circle cx="2078.9" cy="1103.6" r="11.0" fill="#529d3e"/><circle cx="2077.9" cy="1110.8" r="11.0" fill="#529d3e"/><circle cx="2086.4" cy="1110.1" r="11.0" fill="#529d3e"/><circle cx="2096.0" cy="1111.5" r="11.0" fill="#529d3e"/><circle cx="2098.8" cy="1120.1" r="11.0" fill="#529d3e"/><circle cx="2105.3" cy="1127.4" r="11.0" fill="#529d3e"/><circle cx="2110.7" cy="1132.6" r="11.0" fill="#529d3e"/>
<circle cx="2080.9" cy="1104.0" r="11.0" fill="#529d3e"/><circle cx="2092.4" cy="1103.1" r="11.0" fill="#529d3e"/><circle cx="2102.8" cy="1112.5" r="11.0" fill="#529d3e"/><circle cx="2107.3" cy="1115.9" r="11.0" fill="#529d3e"/><circle cx="2112.0" cy="1124.2" r="11.0" fill="#529d3e"/>
<circle cx="2119.7" cy="1105.7" r="11.0" fill="#529d3e"/><circle cx="2128.0" cy="1109.8" r="11.0" fill="#529d3e"/><circle cx="2137.7" cy="1117.6" r="11.0" fill="#529d3e"/><circle cx="2145.9" cy="1121.2" r="11.0" fill="#529d3e"/><circle cx="2153.1" cy="1125.0" r="11.0" fill="#529d3e"/><circle cx="2162.3" cy="1125.1" r="11.0" fill="#529d3e"/><circle cx="2164.9" cy="1131.7" r="11.0" fill="#529d3e"/><circle cx="2173.6" cy="1139.3" r="11.0" fill="#529d3e"/>
<circle cx="2127.4" cy="1106.1" r="11.0" fill="#529d3e"/><circle cx="2137.6" cy="1107.8" r="11.0" fill="#529d3e"/><circle cx="2142.6" cy="1112.7" r="11.0" fill="#529d3e"/><circle cx="2151.0" cy="1118.5" r="11.0" fill="#529d3e"/><circle cx="2162.6" cy="1123.0" r="11.0" fill="#529d3e"/><circle cx="2169.7" cy="1123.5" r="11.0" fill="#529d3e"/><circle cx="2171.2" cy="1134.2" r="11.0" fill="#529d3e"/>
<circle cx="2100.8" cy="1032.7" r="11.0" fill="#ef8636"/>
<circle cx="2114.7" cy="1031.6" r="11.0" fill="#ef8636"/>
<circle cx="2108.9" cy="1035.0" r="11.0" fill="#ef8636"/>
<circle cx="2165.5" cy="1024.6" r="11.0" fill="#ef8636"/>
<circle cx="2156.2" cy="1022.3" r="11.0" fill="#ef8636"/>
<circle cx="2149.3" cy="1027.0" r="11.0" fill="#ef8636"/>
<circle cx="2190.9" cy="1003.9" r="11.0" fill="#ef8636"/>
<circle cx="2188.6" cy="1013.1" r="11.0" fill="#ef8636"/>
<circle cx="2200.1" cy="1010.8" r="11.0" fill="#ef8636"/>
<circle cx="2209.3" cy="1009.6" r="11.0" fill="#ef8636"/>
<circle cx="2223.2" cy="1007.3" r="11.0" fill="#ef8636"/>
<circle cx="2232.4" cy="1003.9" r="11.0" fill="#ef8636"/>
<circle cx="2255.5" cy="999.3" r="11.0" fill="#ef8636"/>
<circle cx="2246.3" cy="999.3" r="11.0" fill="#ef8636"/>
<circle cx="2243.3" cy="984.9" r="11.0" fill="#ef8636"/>
<circle cx="2242.3" cy="1008.6" r="11.0" fill="#529d3e"/>
<circle cx="2087.0" cy="1030.4" r="11.0" fill="#c53932"/>
<circle cx="2134.3" cy="1021.2" r="11.0" fill="#c53932"/>
<circle cx="2142.4" cy="1015.9" r="11.0" fill="#c53932"/>
<circle cx="2150.5" cy="1009.6" r="11.0" fill="#c53932"/>
<circle cx="2157.4" cy="1004.3" r="11.0" fill="#c53932"/>
<circle cx="2167.8" cy="1008.0" r="11.0" fill="#c53932"/>
<circle cx="2160.8" cy="1010.8" r="11.0" fill="#c53932"/>
<circle cx="2202.4" cy="993.9" r="11.0" fill="#c53932"/>
<circle cx="2210.5" cy="991.2" r="11.0" fill="#c53932"/>
<circle cx="2216.7" cy="987.0" r="11.0" fill="#c53932"/>
<circle cx="2218.6" cy="996.9" r="11.0" fill="#c53932"/>
<circle cx="2226.6" cy="992.3" r="11.0" fill="#c53932"/>
<circle cx="2233.6" cy="985.4" r="11.0" fill="#c53932"/>
<circle cx="2241.6" cy="988.9" r="11.0" fill="#c53932"/>
<circle cx="2250.9" cy="986.6" r="11.0" fill="#c53932"/>
<text x="1974.4" y="1062.7" font-size="19.6" text-anchor="middle" fill="#444" transform="rotate(-21 1974.4 1055.7)">180</text>
<text x="1981.9" y="1087.8" font-size="19.6" text-anchor="middle" fill="#444" transform="rotate(-21 1981.9 1080.8)">160</text>
<text x="1989.4" y="1112.6" font-size="19.6" text-anchor="middle" fill="#444" transform="rotate(-21 1989.4 1105.6)">140</text>
<text x="1996.9" y="1133.9" font-size="19.6" text-anchor="middle" fill="#444" transform="rotate(-21 1996.9 1126.9)">120</text>
<text x="2001.8" y="1154.6" font-size="19.6" text-anchor="middle" fill="#444" transform="rotate(-21 2001.8 1147.6)">100</text>
<text x="2009.3" y="1176.3" font-size="19.6" text-anchor="middle" fill="#444" transform="rotate(-21 2009.3 1169.3)">80</text>
<text x="2015.7" y="1195.8" font-size="19.6" text-anchor="middle" fill="#444" transform="rotate(-21 2015.7 1188.8)">60</text>
<text x="2023.2" y="1212.7" font-size="19.6" text-anchor="middle" fill="#444" transform="rotate(-21 2023.2 1205.7)">0</text>
<text x="2055.1" y="1244.6" font-size="19.6" text-anchor="middle" fill="#444" transform="rotate(-33 2055.1 1237.6)">50</text>
<text x="2091.8" y="1278.4" font-size="19.6" text-anchor="middle" fill="#444" transform="rotate(-33 2091.8 1271.4)">100</text>
<text x="2133.1" y="1315.9" font-size="19.6" text-anchor="middle" fill="#444" transform="rotate(-33 2133.1 1308.9)">150</text>
<text x="2180.7" y="1362.8" font-size="19.6" text-anchor="middle" fill="#444" transform="rotate(-33 2180.7 1355.8)">200</text>
<text x="2530.3" y="1268.3" font-size="19.6" text-anchor="middle" fill="#444" transform="rotate(26.5 2530.3 1261.3)">Aug 10 2025</text>
<text x="2512.4" y="1282.8" font-size="19.6" text-anchor="middle" fill="#444" transform="rotate(29 2512.4 1275.8)">Aug 24</text>
<text x="2497.4" y="1299.6" font-size="19.6" text-anchor="middle" fill="#444" transform="rotate(30 2497.4 1292.6)">Sep 7</text>
<text x="2481.8" y="1320.4" font-size="19.6" text-anchor="middle" fill="#444" transform="rotate(31 2481.8 1313.4)">Sep 21</text>
<text x="2461.7" y="1342.7" font-size="19.6" text-anchor="middle" fill="#444" transform="rotate(33 2461.7 1335.7)">Oct 5</text>
<text x="2443.1" y="1363.8" font-size="19.6" text-anchor="middle" fill="#444" transform="rotate(34.5 2443.1 1356.8)">Oct 19</text>
<text x="2422.1" y="1385.7" font-size="19.6" text-anchor="middle" fill="#444" transform="rotate(34 2422.1 1378.7)">Nov 2</text>
<text x="2396.5" y="1407.0" font-size="19.6" text-anchor="middle" fill="#444" transform="rotate(34 2396.5 1400.0)">Nov 16</text>
<text x="1938.8" y="1156.4" font-size="24" text-anchor="middle" fill="#444">z</text>
<text x="2070.1" y="1344.0" font-size="24" text-anchor="middle" fill="#444" transform="rotate(-10 2070.1 1337.0)">y</text>
<text x="2515.7" y="1392.0" font-size="24" text-anchor="middle" fill="#444">x</text></g>
<text x="2259.0" y="803.8" font-size="27" text-anchor="middle" fill="#444">Heart Rate by Day (3D)</text>
</svg></div></body></html>
